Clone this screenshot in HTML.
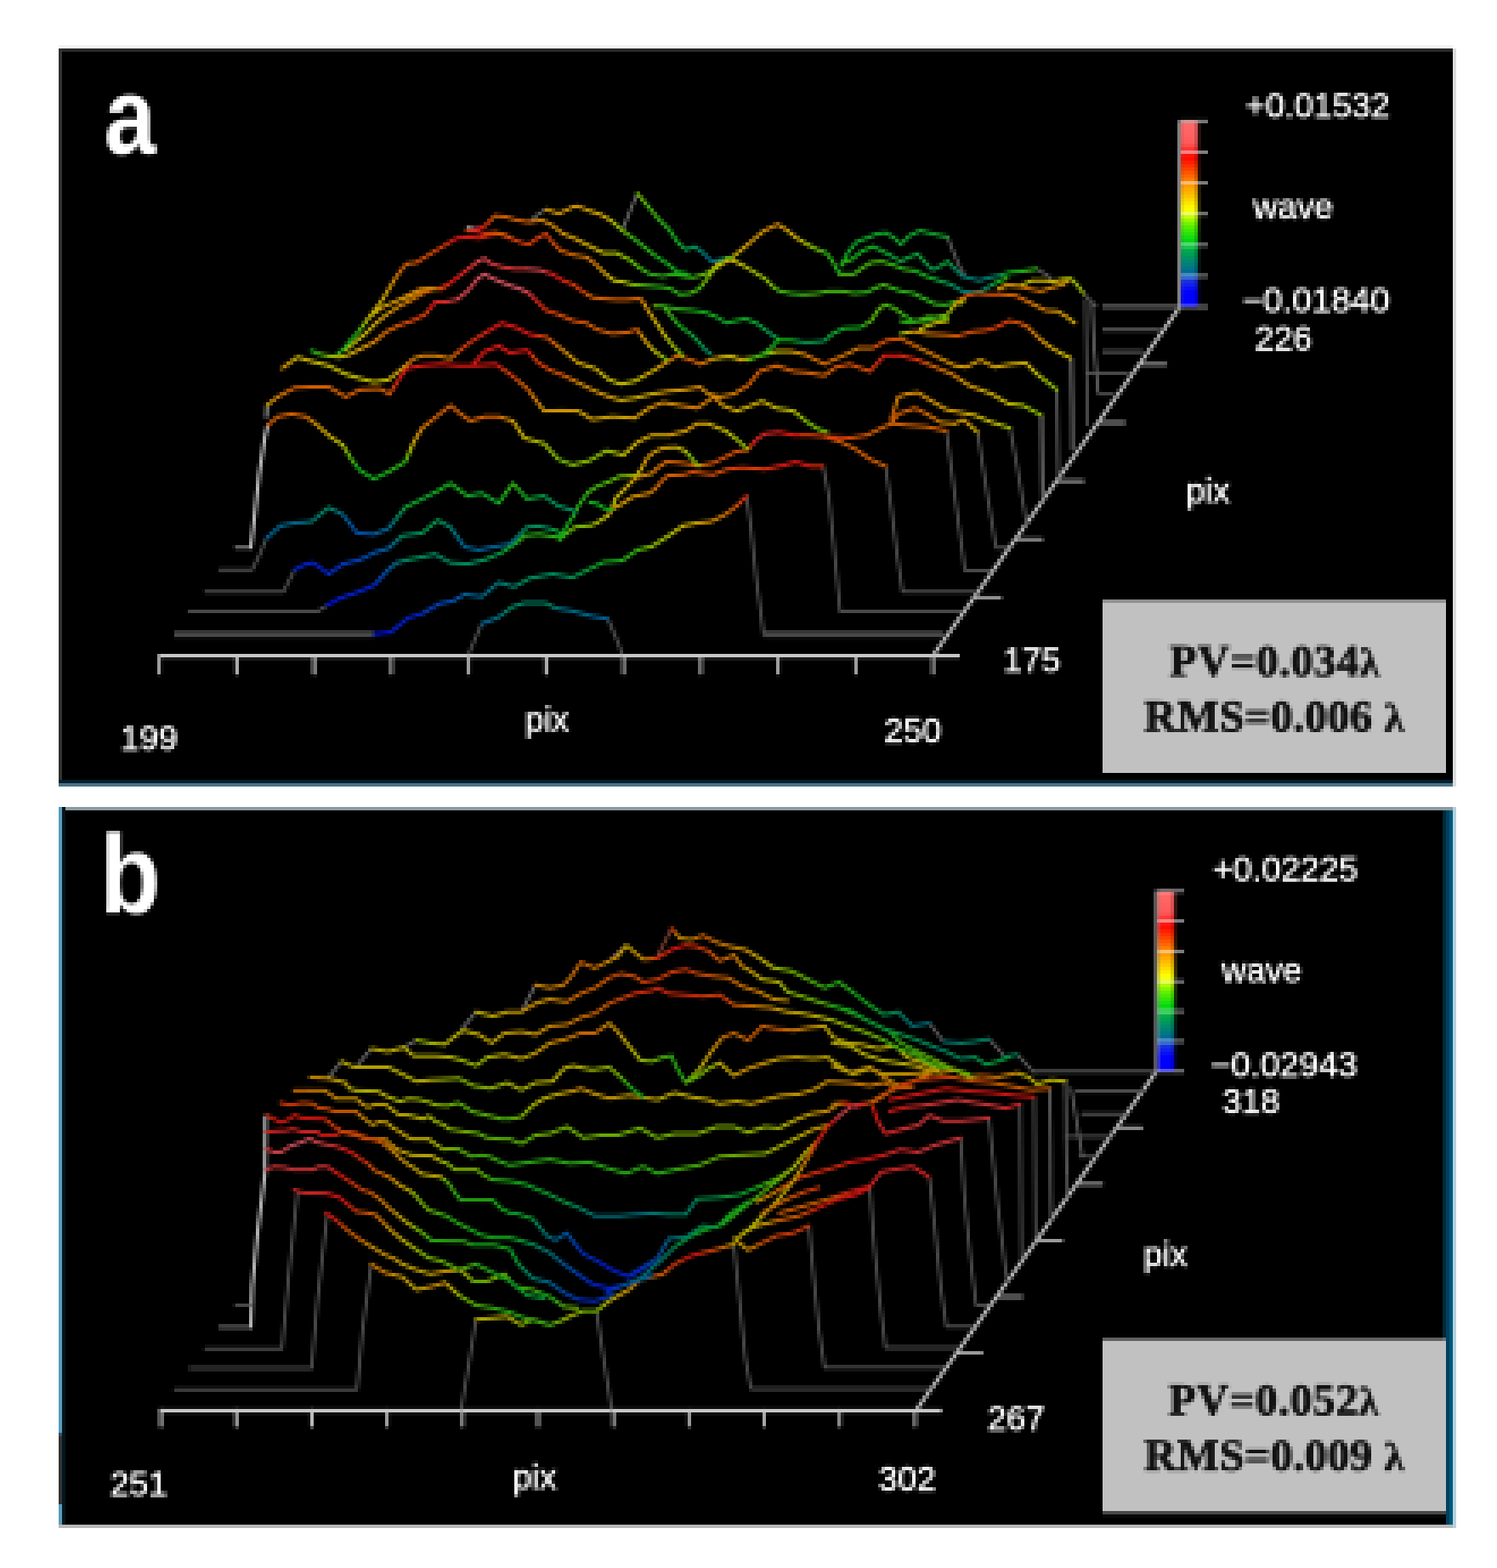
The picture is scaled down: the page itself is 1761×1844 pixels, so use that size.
<!DOCTYPE html>
<html lang="en"><head><meta charset="utf-8"><title>Wavefront maps</title>
<style>
html,body{margin:0;padding:0;background:#fff;}
body{width:1761px;height:1844px;overflow:hidden;position:relative;}
svg{position:absolute;left:0;top:0;display:block;}
.lab{font-family:"Liberation Sans",sans-serif;font-size:40.5px;fill:#fafafa;stroke:#fafafa;stroke-width:0.9px;paint-order:stroke;}
.pl{font-family:"Liberation Sans",sans-serif;font-weight:bold;fill:#fff;}
.st{font-family:"Liberation Serif",serif;font-weight:bold;font-size:52.5px;fill:#121212;stroke:#121212;stroke-width:1.2px;paint-order:stroke;}
</style></head><body>
<svg width="1761" height="1844" viewBox="0 0 1761 1844" role="img" aria-label="Wavefront maps a and b">
<defs>
<filter id="bl" x="-5%" y="-5%" width="110%" height="110%"><feGaussianBlur stdDeviation="0.9"/></filter>
<filter id="avg" filterUnits="userSpaceOnUse" x="0" y="0" width="1761" height="1844" color-interpolation-filters="sRGB"><feOffset in="SourceGraphic" dx="-1" dy="0" result="a1"/><feComposite in="SourceGraphic" in2="a1" operator="arithmetic" k1="0" k2="0.5" k3="0.5" k4="0" result="h1"/><feOffset in="h1" dx="-2" dy="0" result="a2"/><feComposite in="h1" in2="a2" operator="arithmetic" k1="0" k2="0.5" k3="0.5" k4="0" result="h2"/><feOffset in="h2" dx="0" dy="-1" result="b1"/><feComposite in="h2" in2="b1" operator="arithmetic" k1="0" k2="0.5" k3="0.5" k4="0" result="v1"/><feOffset in="v1" dx="0" dy="-2" result="b2"/><feComposite in="v1" in2="b2" operator="arithmetic" k1="0" k2="0.5" k3="0.5" k4="0" result="v2"/><feOffset in="v2" dx="1" dy="1"/></filter>
<filter id="px" filterUnits="userSpaceOnUse" x="0" y="0" width="1761" height="1844" color-interpolation-filters="sRGB"><feMorphology in="SourceGraphic" operator="dilate" radius="1" result="d"/><feOffset in="d" dx="1" dy="0" result="d1"/><feOffset in="d" dx="0" dy="1" result="d2"/><feOffset in="d" dx="1" dy="1" result="d3"/><feMerge><feMergeNode in="d3"/><feMergeNode in="d2"/><feMergeNode in="d1"/><feMergeNode in="d"/></feMerge></filter>
<pattern id="dotpat" patternUnits="userSpaceOnUse" x="1" y="1" width="4" height="4"><rect x="1" y="1" width="1" height="1" fill="#fff" shape-rendering="crispEdges"/></pattern>
<mask id="dots" maskUnits="userSpaceOnUse" x="0" y="0" width="1761" height="1844"><rect x="0" y="0" width="1761" height="1844" fill="url(#dotpat)"/></mask>
<filter id="bt" x="-5%" y="-20%" width="110%" height="140%"><feGaussianBlur stdDeviation="0.7"/></filter>
<linearGradient id="cb" x1="0" y1="0" x2="0" y2="1">
<stop offset="0" stop-color="#ff6a6a"/>
<stop offset="0.12" stop-color="#ff5a5a"/>
<stop offset="0.165" stop-color="#ff2020"/>
<stop offset="0.2" stop-color="#ff0800"/>
<stop offset="0.333" stop-color="#ff8c00"/>
<stop offset="0.4" stop-color="#ffc000"/>
<stop offset="0.47" stop-color="#ffff00"/>
<stop offset="0.5" stop-color="#e0ff00"/>
<stop offset="0.56" stop-color="#60f000"/>
<stop offset="0.64" stop-color="#00d810"/>
<stop offset="0.667" stop-color="#00c030"/>
<stop offset="0.72" stop-color="#009a58"/>
<stop offset="0.8" stop-color="#00708a"/>
<stop offset="0.833" stop-color="#0058b0"/>
<stop offset="0.86" stop-color="#1830e0"/>
<stop offset="0.92" stop-color="#0000ff"/>
<stop offset="1" stop-color="#0000ff"/>
</linearGradient>
</defs>
<rect x="0" y="0" width="1761" height="1844" fill="#ffffff"/>
<g id="figure" filter="url(#px)"><g mask="url(#dots)"><g filter="url(#avg)">
<rect x="0" y="0" width="1761" height="1844" fill="#ffffff"/>
<g id="panel-a">
<rect x="69" y="53" width="1640" height="4" fill="#f3f3f3"/>
<rect x="1709" y="57" width="4" height="868" fill="#dcdcdc"/>
<rect x="69" y="57" width="1640" height="868" fill="#000"/>
<rect x="69" y="57" width="1640" height="4" fill="#282828"/>
<rect x="69" y="57" width="4" height="868" fill="#303030"/>
<rect x="69" y="917" width="1640" height="4" fill="#04202e"/>
<rect x="69" y="921" width="1640" height="4" fill="#4a7182"/>
</g>
<g id="panel-b">
<rect x="69" y="949" width="1640" height="848" fill="#000"/>
<rect x="69" y="949" width="1644" height="4" fill="#8c9aa2"/>
<rect x="69" y="949" width="4" height="844" fill="#5b9abb"/>
<rect x="69" y="1686" width="4" height="83" fill="#333"/>
<rect x="73" y="949" width="4" height="844" fill="#04161f"/>
<rect x="1697" y="953" width="4" height="622" fill="#022838"/>
<rect x="1701" y="953" width="4" height="840" fill="#01405c"/>
<rect x="1705" y="953" width="4" height="840" fill="#00587e"/>
<rect x="1709" y="949" width="4" height="848" fill="#b4d2de"/>
<rect x="69" y="1793" width="1640" height="4" fill="#b8b8b8"/>
</g>
<g id="wire-a" fill="none" stroke-linecap="round" stroke-linejoin="round">
<path d="M186.0 771.2 L1129.0 771.2" stroke="#c6c6c6" stroke-width="4.6" stroke-linecap="butt"/>
<path d="M187.5 771.0 L187.5 792.0" stroke="#c4c4c4" stroke-width="3.4"/>
<path d="M278.5 771.0 L278.5 792.0" stroke="#c4c4c4" stroke-width="4.0"/>
<path d="M369.5 771.0 L369.5 792.0" stroke="#c4c4c4" stroke-width="4.0"/>
<path d="M460.5 771.0 L460.5 792.0" stroke="#c4c4c4" stroke-width="3.4"/>
<path d="M551.5 771.0 L551.5 792.0" stroke="#c4c4c4" stroke-width="3.4"/>
<path d="M642.5 771.0 L642.5 792.0" stroke="#c4c4c4" stroke-width="4.0"/>
<path d="M733.5 771.0 L733.5 792.0" stroke="#c4c4c4" stroke-width="3.4"/>
<path d="M824.5 771.0 L824.5 792.0" stroke="#c4c4c4" stroke-width="3.4"/>
<path d="M915.5 771.0 L915.5 792.0" stroke="#c4c4c4" stroke-width="3.4"/>
<path d="M1006.5 771.0 L1006.5 792.0" stroke="#c4c4c4" stroke-width="3.4"/>
<path d="M1097.5 771.0 L1097.5 792.0" stroke="#c4c4c4" stroke-width="3.4"/>
<path d="M1097.5 771.0 L1388.0 361.0" stroke="#bdbdbd" stroke-width="4.2"/>
<path d="M1148.1 702.5 L1177.1 702.5" stroke="#b0b0b0" stroke-width="3.4"/>
<path d="M1196.7 634.0 L1225.7 634.0" stroke="#b0b0b0" stroke-width="3.4"/>
<path d="M1245.3 565.5 L1274.3 565.5" stroke="#b0b0b0" stroke-width="3.4"/>
<path d="M1293.9 497.0 L1322.9 497.0" stroke="#b0b0b0" stroke-width="3.4"/>
<path d="M1342.5 428.5 L1371.5 428.5" stroke="#b0b0b0" stroke-width="3.4"/>
<path d="M551.7 768.3 L566.7 733.3" stroke="#525252" stroke-width="3.4"/>
<path d="M715.0 727.7 L723.3 746.7 L731.7 768.3" stroke="#525252" stroke-width="3.4"/>
<path d="M205.0 745.7 L440.0 745.7" stroke="#484848" stroke-width="7.5" stroke-linecap="butt"/>
<path d="M878.3 583.3 L883.3 620.0 L890.0 683.3 L898.3 745.7" stroke="#525252" stroke-width="3.4"/>
<path d="M898.3 745.7 L1110.0 745.7" stroke="#484848" stroke-width="7.5" stroke-linecap="butt"/>
<path d="M222.3 719.3 L373.3 719.3 L385.0 711.7" stroke="#525252" stroke-width="3.4"/>
<path d="M968.3 548.3 L975.0 583.3 L981.7 650.0 L988.3 719.3 L1130.0 719.3" stroke="#525252" stroke-width="3.4"/>
<path d="M241.7 696.0 L333.3 696.0 L346.7 670.0" stroke="#525252" stroke-width="3.4"/>
<path d="M1041.7 548.3 L1046.7 583.3 L1055.0 650.0 L1061.7 696.0 L1148.3 696.0" stroke="#525252" stroke-width="3.4"/>
<path d="M258.3 670.0 L296.7 670.0 L305.0 653.3 L313.3 633.3" stroke="#525252" stroke-width="3.4"/>
<path d="M1113.3 506.7 L1123.3 583.3 L1135.0 670.7 L1165.0 670.7" stroke="#525252" stroke-width="3.4"/>
<path d="M277.3 644.0 L295.0 644.0" stroke="#8a8a8a" stroke-width="3.4"/>
<path d="M295.0 644.0 L298.3 616.7 L305.0 556.7 L311.7 513.3 L315.0 500.0" stroke="#b8b8b8" stroke-width="4.2"/>
<path d="M1150.0 508.3 L1161.7 583.3 L1171.7 644.0 L1185.0 644.0" stroke="#525252" stroke-width="3.4"/>
<path d="M313.3 490.0 L314.0 476.7" stroke="#9a9a9a" stroke-width="3.8"/>
<path d="M1188.3 503.3 L1196.7 550.0 L1206.7 610.0 L1207.3 616.7" stroke="#525252" stroke-width="3.4"/>
<path d="M1225.0 488.3 L1226.7 583.3 L1228.3 586.7" stroke="#5c5c5c" stroke-width="5" stroke-linecap="butt"/>
<path d="M1243.3 458.3 L1245.0 560.0 L1246.7 561.7" stroke="#5c5c5c" stroke-width="3.4"/>
<path d="M549.9 267.4 L559.9 269.4" stroke="#b0a0a0" stroke-width="3.2"/>
<path d="M622.3 261.2 L632.3 252.5 L642.3 246.2" stroke="#707070" stroke-width="3.2"/>
<path d="M732.3 269.9 L749.7 227.5" stroke="#707070" stroke-width="3.2"/>
<path d="M1114.5 278.7 L1122.0 297.4 L1129.5 314.9 L1134.5 322.4" stroke="#606060" stroke-width="3.2"/>
<path d="M1219.5 316.2 L1229.5 322.4 L1237.0 327.4" stroke="#606060" stroke-width="3.2"/>
<path d="M1259.9 421.1 L1261.4 479.8 L1261.9 529.8" stroke="#505050" stroke-width="5.5" stroke-linecap="butt"/>
<path d="M1276.9 352.4 L1278.2 429.9 L1279.4 499.8" stroke="#585858" stroke-width="3.2"/>
<path d="M1284.4 354.9 L1286.9 404.9 L1291.9 462.3" stroke="#6a6a6a" stroke-width="3.2"/>
<path d="M1274.4 344.9 L1289.4 359.9" stroke="#585858" stroke-width="3.2"/>
<path d="M1296.9 360.4 L1386.9 360.4" stroke="#484848" stroke-width="6.5" stroke-linecap="butt"/>
<path d="M1296.9 387.4 L1364.4 387.4" stroke="#484848" stroke-width="5" stroke-linecap="butt"/>
<path d="M1296.9 413.6 L1344.4 413.6" stroke="#484848" stroke-width="5" stroke-linecap="butt"/>
<path d="M1279.4 438.6 L1326.9 438.6" stroke="#585858" stroke-width="3.2"/>
<path d="M1294.4 463.6 L1309.4 463.6" stroke="#585858" stroke-width="3.2"/>
<path d="M566.7 733.3 L575.8 730.0" stroke="#006092" stroke-width="4"/>
<path d="M575.8 730.0 L585.0 726.7" stroke="#006888" stroke-width="4"/>
<path d="M585.0 726.7 L594.2 720.0" stroke="#00707c" stroke-width="4"/>
<path d="M594.2 720.0 L603.3 713.3 L616.7 709.0 L641.7 709.0 L653.3 715.0" stroke="#008264" stroke-width="4"/>
<path d="M653.3 715.0 L663.3 716.7" stroke="#00707c" stroke-width="4"/>
<path d="M663.3 716.7 L673.3 718.3 L693.3 724.0" stroke="#006888" stroke-width="4"/>
<path d="M693.3 724.0 L715.0 727.7" stroke="#006092" stroke-width="4"/>
<path d="M440.0 745.7 L460.0 743.3" stroke="#0010d8" stroke-width="4"/>
<path d="M460.0 743.3 L480.0 726.7 L496.7 721.7" stroke="#001ece" stroke-width="4"/>
<path d="M496.7 721.7 L516.7 710.0" stroke="#003aba" stroke-width="4"/>
<path d="M516.7 710.0 L525.0 708.3 L533.3 706.7" stroke="#0048b0" stroke-width="4"/>
<path d="M533.3 706.7 L540.0 702.8" stroke="#0050a6" stroke-width="4"/>
<path d="M540.0 702.8 L546.7 699.0" stroke="#00589c" stroke-width="4"/>
<path d="M546.7 699.0 L566.7 701.7" stroke="#006092" stroke-width="4"/>
<path d="M566.7 701.7 L576.7 693.3" stroke="#006888" stroke-width="4"/>
<path d="M576.7 693.3 L586.7 685.0" stroke="#00707c" stroke-width="4"/>
<path d="M586.7 685.0 L605.0 690.0" stroke="#007970" stroke-width="4"/>
<path d="M605.0 690.0 L614.2 685.0" stroke="#008264" stroke-width="4"/>
<path d="M614.2 685.0 L623.3 680.0 L650.0 675.0 L673.3 679.0" stroke="#008a58" stroke-width="4"/>
<path d="M673.3 679.0 L685.6 673.0" stroke="#049248" stroke-width="4"/>
<path d="M685.6 673.0 L697.8 667.0" stroke="#089a38" stroke-width="4"/>
<path d="M697.8 667.0 L710.0 661.0" stroke="#0ca228" stroke-width="4"/>
<path d="M710.0 661.0 L731.7 659.3" stroke="#10aa18" stroke-width="4"/>
<path d="M731.7 659.3 L750.0 646.7" stroke="#28ad12" stroke-width="4"/>
<path d="M750.0 646.7 L758.3 644.7" stroke="#40b00c" stroke-width="4"/>
<path d="M758.3 644.7 L766.7 642.7" stroke="#70b600" stroke-width="4"/>
<path d="M766.7 642.7 L776.7 636.3" stroke="#84b600" stroke-width="4"/>
<path d="M776.7 636.3 L786.7 630.0" stroke="#97b600" stroke-width="4"/>
<path d="M786.7 630.0 L795.0 624.2" stroke="#aab600" stroke-width="4"/>
<path d="M795.0 624.2 L803.3 618.3" stroke="#beb600" stroke-width="4"/>
<path d="M803.3 618.3 L811.7 616.7" stroke="#c2ad00" stroke-width="4"/>
<path d="M811.7 616.7 L820.0 615.0" stroke="#c5a400" stroke-width="4"/>
<path d="M820.0 615.0 L828.3 614.2" stroke="#c89b00" stroke-width="4"/>
<path d="M828.3 614.2 L836.7 613.3" stroke="#cc9200" stroke-width="4"/>
<path d="M836.7 613.3 L845.0 609.2" stroke="#cd8500" stroke-width="4"/>
<path d="M845.0 609.2 L853.3 605.0" stroke="#ce7800" stroke-width="4"/>
<path d="M853.3 605.0 L860.0 600.0" stroke="#cf6b00" stroke-width="4"/>
<path d="M860.0 600.0 L866.7 595.0" stroke="#d05e00" stroke-width="4"/>
<path d="M866.7 595.0 L870.6 591.1" stroke="#d24c04" stroke-width="4"/>
<path d="M870.6 591.1 L874.4 587.2" stroke="#d43a08" stroke-width="4"/>
<path d="M874.4 587.2 L878.3 583.3" stroke="#d6280c" stroke-width="4"/>
<path d="M385.0 711.7 L400.0 703.3" stroke="#0010d8" stroke-width="4"/>
<path d="M400.0 703.3 L420.0 696.7 L440.0 688.3" stroke="#001ece" stroke-width="4"/>
<path d="M440.0 688.3 L444.2 683.8" stroke="#002cc4" stroke-width="4"/>
<path d="M444.2 683.8 L448.3 679.2" stroke="#003aba" stroke-width="4"/>
<path d="M448.3 679.2 L452.5 674.6" stroke="#0048b0" stroke-width="4"/>
<path d="M452.5 674.6 L456.7 670.0" stroke="#0050a6" stroke-width="4"/>
<path d="M456.7 670.0 L460.0 667.2" stroke="#00589c" stroke-width="4"/>
<path d="M460.0 667.2 L463.3 664.4" stroke="#006092" stroke-width="4"/>
<path d="M463.3 664.4 L466.7 661.7" stroke="#006888" stroke-width="4"/>
<path d="M466.7 661.7 L471.1 660.6" stroke="#00707c" stroke-width="4"/>
<path d="M471.1 660.6 L475.6 659.4" stroke="#007970" stroke-width="4"/>
<path d="M475.6 659.4 L480.0 658.3" stroke="#008264" stroke-width="4"/>
<path d="M480.0 658.3 L496.7 655.0 L511.7 651.7" stroke="#008a58" stroke-width="4"/>
<path d="M511.7 651.7 L530.0 661.7" stroke="#008264" stroke-width="4"/>
<path d="M530.0 661.7 L550.0 663.3 L570.0 658.3" stroke="#008a58" stroke-width="4"/>
<path d="M570.0 658.3 L590.0 650.0" stroke="#049248" stroke-width="4"/>
<path d="M590.0 650.0 L593.3 647.8" stroke="#089a38" stroke-width="4"/>
<path d="M593.3 647.8 L596.7 645.6" stroke="#0ca228" stroke-width="4"/>
<path d="M596.7 645.6 L600.0 643.3 L610.0 636.7" stroke="#10aa18" stroke-width="4"/>
<path d="M610.0 636.7 L617.0 630.0 L634.0 628.3 L656.3 631.7 L659.7 633.3" stroke="#28ad12" stroke-width="4"/>
<path d="M659.7 633.3 L668.0 626.3" stroke="#40b00c" stroke-width="4"/>
<path d="M668.0 626.3 L672.3 623.0" stroke="#58b306" stroke-width="4"/>
<path d="M672.3 623.0 L676.7 619.7 L686.0 618.8" stroke="#70b600" stroke-width="4"/>
<path d="M686.0 618.8 L695.3 618.0" stroke="#84b600" stroke-width="4"/>
<path d="M695.3 618.0 L702.3 614.7" stroke="#97b600" stroke-width="4"/>
<path d="M702.3 614.7 L709.0 610.3" stroke="#aab600" stroke-width="4"/>
<path d="M709.0 610.3 L715.7 606.0 L717.5 602.7" stroke="#beb600" stroke-width="4"/>
<path d="M717.5 602.7 L719.3 599.3" stroke="#c2ad00" stroke-width="4"/>
<path d="M719.3 599.3 L724.3 596.7" stroke="#c5a400" stroke-width="4"/>
<path d="M724.3 596.7 L729.3 594.0" stroke="#c89b00" stroke-width="4"/>
<path d="M729.3 594.0 L744.7 584.0" stroke="#cc9200" stroke-width="4"/>
<path d="M744.7 584.0 L763.3 580.3" stroke="#cd8500" stroke-width="4"/>
<path d="M763.3 580.3 L770.3 575.3" stroke="#ce7800" stroke-width="4"/>
<path d="M770.3 575.3 L774.7 570.2" stroke="#cf6b00" stroke-width="4"/>
<path d="M774.7 570.2 L779.0 565.0 L785.7 559.3 L804.3 558.3" stroke="#d05e00" stroke-width="4"/>
<path d="M804.3 558.3 L814.7 555.0 L838.3 558.3 L855.7 551.7" stroke="#d24c04" stroke-width="4"/>
<path d="M855.7 551.7 L872.7 550.0 L900.0 551.7" stroke="#d43a08" stroke-width="4"/>
<path d="M900.0 551.7 L916.7 548.3" stroke="#d6280c" stroke-width="4"/>
<path d="M916.7 548.3 L936.7 543.3 L953.3 548.3" stroke="#d81610" stroke-width="4"/>
<path d="M953.3 548.3 L968.3 548.3" stroke="#d6280c" stroke-width="4"/>
<path d="M346.7 670.0 L360.0 663.3 L368.3 661.7 L386.7 675.0" stroke="#001ece" stroke-width="4"/>
<path d="M386.7 675.0 L403.3 663.3" stroke="#002cc4" stroke-width="4"/>
<path d="M403.3 663.3 L423.3 658.3" stroke="#003aba" stroke-width="4"/>
<path d="M423.3 658.3 L431.7 654.2 L440.0 650.0" stroke="#0048b0" stroke-width="4"/>
<path d="M440.0 650.0 L448.3 647.5" stroke="#0050a6" stroke-width="4"/>
<path d="M448.3 647.5 L456.7 645.0" stroke="#00589c" stroke-width="4"/>
<path d="M456.7 645.0 L460.8 641.2" stroke="#006092" stroke-width="4"/>
<path d="M460.8 641.2 L465.0 637.5" stroke="#006888" stroke-width="4"/>
<path d="M465.0 637.5 L469.2 633.8" stroke="#00707c" stroke-width="4"/>
<path d="M469.2 633.8 L473.3 630.0" stroke="#008264" stroke-width="4"/>
<path d="M473.3 630.0 L496.7 626.7" stroke="#008a58" stroke-width="4"/>
<path d="M496.7 626.7 L515.0 611.7 L522.5 615.8" stroke="#049248" stroke-width="4"/>
<path d="M522.5 615.8 L530.0 620.0" stroke="#008264" stroke-width="4"/>
<path d="M530.0 620.0 L534.2 625.8" stroke="#007970" stroke-width="4"/>
<path d="M534.2 625.8 L538.3 631.7" stroke="#00707c" stroke-width="4"/>
<path d="M538.3 631.7 L542.5 637.5" stroke="#006888" stroke-width="4"/>
<path d="M542.5 637.5 L546.7 643.3 L563.3 646.7 L580.0 643.3 L600.0 640.0" stroke="#006092" stroke-width="4"/>
<path d="M600.0 640.0 L605.0 635.0" stroke="#006888" stroke-width="4"/>
<path d="M605.0 635.0 L610.0 630.0" stroke="#00707c" stroke-width="4"/>
<path d="M610.0 630.0 L615.2 624.8" stroke="#007970" stroke-width="4"/>
<path d="M615.2 624.8 L620.3 619.7 L634.0 618.7 L646.7 621.7" stroke="#008a58" stroke-width="4"/>
<path d="M646.7 621.7 L651.5 623.2" stroke="#049248" stroke-width="4"/>
<path d="M651.5 623.2 L656.3 624.7" stroke="#089a38" stroke-width="4"/>
<path d="M656.3 624.7 L658.2 627.3" stroke="#0ca228" stroke-width="4"/>
<path d="M658.2 627.3 L660.0 630.0" stroke="#10aa18" stroke-width="4"/>
<path d="M719.3 599.3 L724.3 585.7" stroke="#beb600" stroke-width="4"/>
<path d="M724.3 585.7 L733.0 577.0" stroke="#c2ad00" stroke-width="4"/>
<path d="M733.0 577.0 L741.3 568.7 L744.8 565.2" stroke="#c5a400" stroke-width="4"/>
<path d="M744.8 565.2 L748.3 561.7 L756.7 559.3" stroke="#cc9200" stroke-width="4"/>
<path d="M756.7 559.3 L767.0 556.7" stroke="#cd8500" stroke-width="4"/>
<path d="M767.0 556.7 L773.7 550.0" stroke="#ce7800" stroke-width="4"/>
<path d="M773.7 550.0 L784.0 543.0" stroke="#cf6b00" stroke-width="4"/>
<path d="M784.0 543.0 L797.7 544.0 L811.3 545.7 L819.7 548.0 L838.3 544.7" stroke="#d05e00" stroke-width="4"/>
<path d="M838.3 544.7 L852.0 538.0 L865.7 531.0 L879.3 529.3" stroke="#d24c04" stroke-width="4"/>
<path d="M879.3 529.3 L882.9 525.1" stroke="#d43a08" stroke-width="4"/>
<path d="M882.9 525.1 L886.4 520.9" stroke="#d6280c" stroke-width="4"/>
<path d="M886.4 520.9 L890.0 516.7 L900.0 510.0 L916.7 508.3" stroke="#d52423" stroke-width="4"/>
<path d="M916.7 508.3 L933.3 511.7 L943.3 511.7" stroke="#d81610" stroke-width="4"/>
<path d="M943.3 511.7 L953.3 511.7 L970.0 513.3" stroke="#d43a08" stroke-width="4"/>
<path d="M970.0 513.3 L990.0 520.0" stroke="#d24c04" stroke-width="4"/>
<path d="M990.0 520.0 L1006.7 528.3 L1023.3 540.0 L1041.7 548.3" stroke="#d05e00" stroke-width="4"/>
<path d="M658.0 635.0 L666.7 618.3 L675.0 606.0" stroke="#10aa18" stroke-width="4"/>
<path d="M675.0 606.0 L680.0 595.7 L686.7 585.7 L692.0 578.7" stroke="#28ad12" stroke-width="4"/>
<path d="M692.0 578.7 L702.3 572.0 L715.7 566.7" stroke="#40b00c" stroke-width="4"/>
<path d="M715.7 566.7 L729.3 560.0" stroke="#58b306" stroke-width="4"/>
<path d="M729.3 560.0 L738.8 559.7" stroke="#70b600" stroke-width="4"/>
<path d="M738.8 559.7 L748.3 559.3" stroke="#97b600" stroke-width="4"/>
<path d="M748.3 559.3 L750.8 556.3" stroke="#aab600" stroke-width="4"/>
<path d="M750.8 556.3 L753.3 553.3" stroke="#c2ad00" stroke-width="4"/>
<path d="M753.3 553.3 L757.5 545.7" stroke="#c5a400" stroke-width="4"/>
<path d="M757.5 545.7 L761.7 538.0 L770.3 531.0 L780.7 526.7" stroke="#cc9200" stroke-width="4"/>
<path d="M780.7 526.7 L788.3 526.3" stroke="#c89b00" stroke-width="4"/>
<path d="M788.3 526.3 L796.0 526.0" stroke="#c5a400" stroke-width="4"/>
<path d="M796.0 526.0 L801.0 528.2" stroke="#c2ad00" stroke-width="4"/>
<path d="M801.0 528.2 L806.0 530.3" stroke="#beb600" stroke-width="4"/>
<path d="M806.0 530.3 L808.3 532.9" stroke="#aab600" stroke-width="4"/>
<path d="M808.3 532.9 L810.7 535.4" stroke="#97b600" stroke-width="4"/>
<path d="M810.7 535.4 L813.0 538.0" stroke="#84b600" stroke-width="4"/>
<path d="M813.0 538.0 L816.3 542.2" stroke="#70b600" stroke-width="4"/>
<path d="M816.3 542.2 L819.7 546.3" stroke="#84b600" stroke-width="4"/>
<path d="M819.7 546.3 L823.0 548.0" stroke="#97b600" stroke-width="4"/>
<path d="M313.3 633.3 L330.0 618.3" stroke="#006092" stroke-width="4"/>
<path d="M330.0 618.3 L346.7 615.0 L356.7 614.2" stroke="#006888" stroke-width="4"/>
<path d="M356.7 614.2 L366.7 613.3" stroke="#00707c" stroke-width="4"/>
<path d="M366.7 613.3 L376.7 605.0" stroke="#007970" stroke-width="4"/>
<path d="M376.7 605.0 L386.7 596.7 L392.2 599.4" stroke="#008264" stroke-width="4"/>
<path d="M392.2 599.4 L397.8 602.2" stroke="#007970" stroke-width="4"/>
<path d="M397.8 602.2 L403.3 605.0" stroke="#00707c" stroke-width="4"/>
<path d="M403.3 605.0 L408.9 612.2" stroke="#006092" stroke-width="4"/>
<path d="M408.9 612.2 L414.4 619.4" stroke="#00589c" stroke-width="4"/>
<path d="M414.4 619.4 L420.0 626.7 L440.0 628.3" stroke="#0050a6" stroke-width="4"/>
<path d="M440.0 628.3 L456.7 621.7" stroke="#006092" stroke-width="4"/>
<path d="M456.7 621.7 L460.7 616.7" stroke="#006888" stroke-width="4"/>
<path d="M460.7 616.7 L464.7 611.7" stroke="#00707c" stroke-width="4"/>
<path d="M464.7 611.7 L468.7 606.7" stroke="#008264" stroke-width="4"/>
<path d="M468.7 606.7 L472.7 601.7" stroke="#008a58" stroke-width="4"/>
<path d="M472.7 601.7 L476.7 596.7" stroke="#049248" stroke-width="4"/>
<path d="M476.7 596.7 L496.7 586.7 L513.3 578.3" stroke="#0ca228" stroke-width="4"/>
<path d="M513.3 578.3 L530.0 568.3 L550.0 583.3" stroke="#10aa18" stroke-width="4"/>
<path d="M550.0 583.3 L566.7 580.0 L586.7 591.7" stroke="#0ca228" stroke-width="4"/>
<path d="M586.7 591.7 L595.0 580.0" stroke="#10aa18" stroke-width="4"/>
<path d="M595.0 580.0 L603.3 568.3 L611.7 577.5" stroke="#28ad12" stroke-width="4"/>
<path d="M611.7 577.5 L620.0 586.7" stroke="#10aa18" stroke-width="4"/>
<path d="M620.0 586.7 L630.0 585.0" stroke="#0ca228" stroke-width="4"/>
<path d="M630.0 585.0 L640.0 583.3" stroke="#089a38" stroke-width="4"/>
<path d="M640.0 583.3 L648.3 589.2" stroke="#049248" stroke-width="4"/>
<path d="M648.3 589.2 L656.7 595.0 L673.3 600.0 L676.7 602.7" stroke="#008a58" stroke-width="4"/>
<path d="M693.7 590.7 L702.3 592.3 L710.7 597.7 L719.3 599.3" stroke="#10aa18" stroke-width="4"/>
<path d="M970.0 513.3 L1000.0 515.0" stroke="#d43a08" stroke-width="4"/>
<path d="M1000.0 515.0 L1020.0 511.7" stroke="#d24c04" stroke-width="4"/>
<path d="M1020.0 511.7 L1040.0 501.7 L1050.0 498.3 L1066.7 500.0 L1090.0 501.7 L1113.3 506.7" stroke="#d05e00" stroke-width="4"/>
<path d="M315.0 500.0 L326.7 490.0 L343.3 486.7 L360.0 490.0" stroke="#d05e00" stroke-width="4"/>
<path d="M360.0 490.0 L364.4 493.3" stroke="#cf6b00" stroke-width="4"/>
<path d="M364.4 493.3 L368.9 496.7" stroke="#ce7800" stroke-width="4"/>
<path d="M368.9 496.7 L373.3 500.0" stroke="#cd8500" stroke-width="4"/>
<path d="M373.3 500.0 L380.8 506.7" stroke="#c89b00" stroke-width="4"/>
<path d="M380.8 506.7 L388.3 513.3" stroke="#c5a400" stroke-width="4"/>
<path d="M388.3 513.3 L395.8 518.3" stroke="#c2ad00" stroke-width="4"/>
<path d="M395.8 518.3 L403.3 523.3" stroke="#beb600" stroke-width="4"/>
<path d="M403.3 523.3 L405.3 526.7" stroke="#aab600" stroke-width="4"/>
<path d="M405.3 526.7 L407.3 530.0" stroke="#97b600" stroke-width="4"/>
<path d="M407.3 530.0 L409.3 533.3" stroke="#84b600" stroke-width="4"/>
<path d="M409.3 533.3 L411.3 536.7" stroke="#70b600" stroke-width="4"/>
<path d="M411.3 536.7 L413.3 540.0" stroke="#58b306" stroke-width="4"/>
<path d="M413.3 540.0 L418.3 546.7" stroke="#40b00c" stroke-width="4"/>
<path d="M418.3 546.7 L423.3 553.3 L440.0 563.3 L456.7 555.0" stroke="#10aa18" stroke-width="4"/>
<path d="M456.7 555.0 L476.7 543.3 L478.1 540.0" stroke="#28ad12" stroke-width="4"/>
<path d="M478.1 540.0 L479.5 536.7" stroke="#58b306" stroke-width="4"/>
<path d="M479.5 536.7 L481.0 533.3" stroke="#70b600" stroke-width="4"/>
<path d="M481.0 533.3 L482.4 530.0" stroke="#84b600" stroke-width="4"/>
<path d="M482.4 530.0 L483.8 526.7" stroke="#aab600" stroke-width="4"/>
<path d="M483.8 526.7 L485.2 523.3" stroke="#beb600" stroke-width="4"/>
<path d="M485.2 523.3 L486.7 520.0" stroke="#c2ad00" stroke-width="4"/>
<path d="M486.7 520.0 L490.0 514.4" stroke="#c89b00" stroke-width="4"/>
<path d="M490.0 514.4 L493.3 508.9" stroke="#cc9200" stroke-width="4"/>
<path d="M493.3 508.9 L496.7 503.3" stroke="#cd8500" stroke-width="4"/>
<path d="M496.7 503.3 L505.0 496.7" stroke="#ce7800" stroke-width="4"/>
<path d="M505.0 496.7 L513.3 490.0 L530.0 476.7 L541.7 486.7 L553.3 495.0 L570.0 490.0 L586.7 490.0" stroke="#d05e00" stroke-width="4"/>
<path d="M586.7 490.0 L592.2 491.7" stroke="#cf6b00" stroke-width="4"/>
<path d="M592.2 491.7 L597.8 493.3" stroke="#ce7800" stroke-width="4"/>
<path d="M597.8 493.3 L603.3 495.0" stroke="#cd8500" stroke-width="4"/>
<path d="M603.3 495.0 L607.8 501.7" stroke="#c89b00" stroke-width="4"/>
<path d="M607.8 501.7 L612.2 508.3" stroke="#c5a400" stroke-width="4"/>
<path d="M612.2 508.3 L616.7 515.0" stroke="#c2ad00" stroke-width="4"/>
<path d="M616.7 515.0 L628.3 518.3" stroke="#beb600" stroke-width="4"/>
<path d="M628.3 518.3 L640.0 521.7" stroke="#aab600" stroke-width="4"/>
<path d="M640.0 521.7 L648.3 530.8" stroke="#97b600" stroke-width="4"/>
<path d="M648.3 530.8 L656.7 540.0" stroke="#84b600" stroke-width="4"/>
<path d="M656.7 540.0 L673.3 546.7" stroke="#70b600" stroke-width="4"/>
<path d="M673.3 546.7 L693.3 541.7 L713.3 530.0" stroke="#84b600" stroke-width="4"/>
<path d="M713.3 530.0 L723.3 532.5" stroke="#97b600" stroke-width="4"/>
<path d="M723.3 532.5 L733.3 535.0" stroke="#aab600" stroke-width="4"/>
<path d="M733.3 535.0 L741.7 527.5" stroke="#beb600" stroke-width="4"/>
<path d="M741.7 527.5 L750.0 520.0" stroke="#c2ad00" stroke-width="4"/>
<path d="M750.0 520.0 L758.5 515.8" stroke="#c5a400" stroke-width="4"/>
<path d="M758.5 515.8 L767.0 511.7 L786.7 511.7" stroke="#c89b00" stroke-width="4"/>
<path d="M786.7 511.7 L806.7 506.7 L820.0 498.3 L826.7 498.3" stroke="#cc9200" stroke-width="4"/>
<path d="M826.7 498.3 L833.3 498.3" stroke="#c89b00" stroke-width="4"/>
<path d="M833.3 498.3 L843.3 502.5" stroke="#c5a400" stroke-width="4"/>
<path d="M843.3 502.5 L853.3 506.7" stroke="#c2ad00" stroke-width="4"/>
<path d="M853.3 506.7 L860.0 511.7" stroke="#beb600" stroke-width="4"/>
<path d="M860.0 511.7 L866.7 516.7" stroke="#aab600" stroke-width="4"/>
<path d="M866.7 516.7 L873.3 522.5" stroke="#97b600" stroke-width="4"/>
<path d="M873.3 522.5 L880.0 528.3" stroke="#84b600" stroke-width="4"/>
<path d="M1048.3 498.3 L1056.7 486.7 L1076.7 480.0 L1090.0 486.7" stroke="#d05e00" stroke-width="4"/>
<path d="M1090.0 486.7 L1106.7 496.7" stroke="#cf6b00" stroke-width="4"/>
<path d="M1106.7 496.7 L1123.3 498.3" stroke="#cd8500" stroke-width="4"/>
<path d="M1123.3 498.3 L1133.3 493.3 L1141.7 500.8" stroke="#cc9200" stroke-width="4"/>
<path d="M1141.7 500.8 L1150.0 508.3" stroke="#c5a400" stroke-width="4"/>
<path d="M314.0 476.7 L318.2 473.3" stroke="#c89b00" stroke-width="4"/>
<path d="M318.2 473.3 L322.4 470.0" stroke="#cc9200" stroke-width="4"/>
<path d="M322.4 470.0 L326.7 466.7" stroke="#cd8500" stroke-width="4"/>
<path d="M326.7 466.7 L336.7 461.3" stroke="#ce7800" stroke-width="4"/>
<path d="M336.7 461.3 L346.7 456.0 L366.7 455.0 L386.7 455.0 L406.7 466.7 L423.3 458.3 L446.7 457.3 L458.3 463.3" stroke="#d05e00" stroke-width="4"/>
<path d="M458.3 463.3 L462.2 457.2" stroke="#d24c04" stroke-width="4"/>
<path d="M462.2 457.2 L466.1 451.1" stroke="#d43a08" stroke-width="4"/>
<path d="M466.1 451.1 L470.0 445.0" stroke="#d6280c" stroke-width="4"/>
<path d="M470.0 445.0 L478.3 433.3 L496.7 430.0 L520.0 428.3 L540.0 430.0 L556.7 430.0 L583.3 428.3 L591.7 434.2" stroke="#d81610" stroke-width="4"/>
<path d="M591.7 434.2 L600.0 440.0 L610.0 448.3" stroke="#d43a08" stroke-width="4"/>
<path d="M610.0 448.3 L620.0 456.7 L625.0 463.3" stroke="#d05e00" stroke-width="4"/>
<path d="M625.0 463.3 L630.0 470.0 L635.0 476.7" stroke="#ce7800" stroke-width="4"/>
<path d="M635.0 476.7 L640.0 483.3 L660.0 482.7 L680.0 483.3" stroke="#cc9200" stroke-width="4"/>
<path d="M680.0 483.3 L696.7 493.3 L720.0 490.0 L746.7 491.7" stroke="#c89b00" stroke-width="4"/>
<path d="M746.7 491.7 L755.0 485.8 L763.3 480.0" stroke="#cc9200" stroke-width="4"/>
<path d="M763.3 480.0 L780.0 473.3 L800.0 476.7" stroke="#cd8500" stroke-width="4"/>
<path d="M800.0 476.7 L820.0 480.0 L840.0 466.7 L843.3 470.0" stroke="#ce7800" stroke-width="4"/>
<path d="M843.3 470.0 L846.7 473.3" stroke="#cd8500" stroke-width="4"/>
<path d="M846.7 473.3 L850.0 476.7" stroke="#cc9200" stroke-width="4"/>
<path d="M850.0 476.7 L866.7 483.3" stroke="#c89b00" stroke-width="4"/>
<path d="M866.7 483.3 L880.0 478.3 L896.7 471.7" stroke="#c5a400" stroke-width="4"/>
<path d="M896.7 471.7 L913.3 480.0" stroke="#c2ad00" stroke-width="4"/>
<path d="M913.3 480.0 L933.3 483.3" stroke="#beb600" stroke-width="4"/>
<path d="M933.3 483.3 L938.9 487.8" stroke="#aab600" stroke-width="4"/>
<path d="M938.9 487.8 L944.4 492.2" stroke="#97b600" stroke-width="4"/>
<path d="M944.4 492.2 L950.0 496.7" stroke="#84b600" stroke-width="4"/>
<path d="M950.0 496.7 L963.3 505.0 L973.3 508.3" stroke="#70b600" stroke-width="4"/>
<path d="M1048.3 493.3 L1052.5 480.0" stroke="#d05e00" stroke-width="4"/>
<path d="M1052.5 480.0 L1056.7 466.7 L1066.7 463.3" stroke="#ce7800" stroke-width="4"/>
<path d="M1066.7 463.3 L1080.0 461.7 L1093.3 470.0" stroke="#cd8500" stroke-width="4"/>
<path d="M1093.3 470.0 L1113.3 481.7 L1130.0 485.0" stroke="#cc9200" stroke-width="4"/>
<path d="M1130.0 485.0 L1138.3 486.7" stroke="#c89b00" stroke-width="4"/>
<path d="M1138.3 486.7 L1146.7 488.3" stroke="#c5a400" stroke-width="4"/>
<path d="M1146.7 488.3 L1156.7 492.5" stroke="#c2ad00" stroke-width="4"/>
<path d="M1156.7 492.5 L1166.7 496.7 L1173.9 498.9" stroke="#beb600" stroke-width="4"/>
<path d="M1173.9 498.9 L1181.1 501.1" stroke="#aab600" stroke-width="4"/>
<path d="M1181.1 501.1 L1188.3 503.3" stroke="#97b600" stroke-width="4"/>
<path d="M556.7 428.3 L570.0 413.3 L586.7 406.7 L600.0 415.0 L620.0 411.7 L626.7 419.2" stroke="#d81610" stroke-width="4"/>
<path d="M626.7 419.2 L633.3 426.7 L646.7 435.0" stroke="#d43a08" stroke-width="4"/>
<path d="M646.7 435.0 L663.3 441.7" stroke="#d24c04" stroke-width="4"/>
<path d="M663.3 441.7 L671.7 445.8" stroke="#d05e00" stroke-width="4"/>
<path d="M671.7 445.8 L680.0 450.0" stroke="#ce7800" stroke-width="4"/>
<path d="M680.0 450.0 L700.0 460.0" stroke="#cd8500" stroke-width="4"/>
<path d="M700.0 460.0 L716.7 466.7 L723.3 468.7" stroke="#cc9200" stroke-width="4"/>
<path d="M723.3 468.7 L730.0 470.7 L746.7 468.3 L767.0 463.3 L776.8 461.7" stroke="#c5a400" stroke-width="4"/>
<path d="M776.8 461.7 L786.7 460.0 L806.7 458.3" stroke="#cc9200" stroke-width="4"/>
<path d="M806.7 458.3 L823.3 455.0 L833.3 463.3 L846.7 466.7" stroke="#cd8500" stroke-width="4"/>
<path d="M846.7 466.7 L863.3 463.3 L871.7 458.3" stroke="#ce7800" stroke-width="4"/>
<path d="M871.7 458.3 L880.0 453.3 L893.3 436.7 L913.3 430.0 L933.3 436.7 L950.0 438.3 L970.0 441.7 L983.3 431.7" stroke="#d05e00" stroke-width="4"/>
<path d="M983.3 431.7 L1000.0 428.3 L1023.3 436.7" stroke="#d24c04" stroke-width="4"/>
<path d="M1023.3 436.7 L1031.7 427.5" stroke="#d43a08" stroke-width="4"/>
<path d="M1031.7 427.5 L1040.0 418.3" stroke="#d6280c" stroke-width="4"/>
<path d="M1040.0 418.3 L1060.0 418.3" stroke="#d81610" stroke-width="4"/>
<path d="M1060.0 418.3 L1080.0 423.3" stroke="#d6280c" stroke-width="4"/>
<path d="M1080.0 423.3 L1090.0 427.5" stroke="#d43a08" stroke-width="4"/>
<path d="M1090.0 427.5 L1100.0 431.7 L1110.0 435.8" stroke="#d05e00" stroke-width="4"/>
<path d="M1110.0 435.8 L1120.0 440.0 L1130.0 446.7" stroke="#ce7800" stroke-width="4"/>
<path d="M1130.0 446.7 L1140.0 453.3 L1153.3 458.3" stroke="#cc9200" stroke-width="4"/>
<path d="M1153.3 458.3 L1166.7 463.3 L1176.7 469.2" stroke="#c5a400" stroke-width="4"/>
<path d="M1176.7 469.2 L1186.7 475.0 L1195.0 475.8" stroke="#beb600" stroke-width="4"/>
<path d="M1195.0 475.8 L1203.3 476.7" stroke="#aab600" stroke-width="4"/>
<path d="M1203.3 476.7 L1214.2 482.5" stroke="#97b600" stroke-width="4"/>
<path d="M1214.2 482.5 L1225.0 488.3" stroke="#84b600" stroke-width="4"/>
<path d="M331.7 433.3 L336.2 430.0" stroke="#cd8500" stroke-width="4"/>
<path d="M336.2 430.0 L340.8 426.7" stroke="#cc9200" stroke-width="4"/>
<path d="M340.8 426.7 L345.4 423.3" stroke="#c89b00" stroke-width="4"/>
<path d="M345.4 423.3 L350.0 420.0" stroke="#c5a400" stroke-width="4"/>
<path d="M350.0 420.0 L366.7 425.0" stroke="#c2ad00" stroke-width="4"/>
<path d="M366.7 425.0 L386.7 430.0 L406.7 440.0 L423.3 445.0 L440.0 449.3 L456.7 446.7" stroke="#beb600" stroke-width="4"/>
<path d="M456.7 446.7 L462.2 442.2" stroke="#c2ad00" stroke-width="4"/>
<path d="M462.2 442.2 L467.8 437.8" stroke="#c5a400" stroke-width="4"/>
<path d="M467.8 437.8 L473.3 433.3" stroke="#c89b00" stroke-width="4"/>
<path d="M473.3 433.3 L480.0 427.5" stroke="#cc9200" stroke-width="4"/>
<path d="M480.0 427.5 L486.7 421.7 L496.7 418.3 L513.3 418.3 L530.0 421.7" stroke="#ce7800" stroke-width="4"/>
<path d="M530.0 421.7 L534.4 417.8" stroke="#cf6b00" stroke-width="4"/>
<path d="M534.4 417.8 L538.9 413.9" stroke="#d05e00" stroke-width="4"/>
<path d="M538.9 413.9 L543.3 410.0" stroke="#d24c04" stroke-width="4"/>
<path d="M543.3 410.0 L556.7 400.0" stroke="#d43a08" stroke-width="4"/>
<path d="M556.7 400.0 L573.3 390.0" stroke="#d6280c" stroke-width="4"/>
<path d="M573.3 390.0 L590.0 380.0 L606.7 385.0 L623.3 393.3 L633.3 395.0" stroke="#d81610" stroke-width="4"/>
<path d="M633.3 395.0 L643.3 396.7" stroke="#d43a08" stroke-width="4"/>
<path d="M643.3 396.7 L648.9 401.1" stroke="#d24c04" stroke-width="4"/>
<path d="M648.9 401.1 L654.4 405.6" stroke="#d05e00" stroke-width="4"/>
<path d="M654.4 405.6 L660.0 410.0" stroke="#cf6b00" stroke-width="4"/>
<path d="M660.0 410.0 L670.0 418.3" stroke="#cd8500" stroke-width="4"/>
<path d="M670.0 418.3 L680.0 426.7" stroke="#cc9200" stroke-width="4"/>
<path d="M680.0 426.7 L690.0 430.0" stroke="#c89b00" stroke-width="4"/>
<path d="M690.0 430.0 L700.0 433.3 L708.3 440.0" stroke="#c5a400" stroke-width="4"/>
<path d="M708.3 440.0 L716.7 446.7 L730.0 451.7 L746.7 448.3 L756.8 442.5" stroke="#beb600" stroke-width="4"/>
<path d="M756.8 442.5 L767.0 436.7 L775.2 431.7" stroke="#c5a400" stroke-width="4"/>
<path d="M775.2 431.7 L783.3 426.7" stroke="#cc9200" stroke-width="4"/>
<path d="M783.3 426.7 L787.8 423.9" stroke="#cd8500" stroke-width="4"/>
<path d="M787.8 423.9 L792.2 421.1" stroke="#ce7800" stroke-width="4"/>
<path d="M792.2 421.1 L796.7 418.3" stroke="#cf6b00" stroke-width="4"/>
<path d="M796.7 418.3 L813.3 423.3 L823.3 428.3" stroke="#d05e00" stroke-width="4"/>
<path d="M823.3 428.3 L828.9 426.1" stroke="#cf6b00" stroke-width="4"/>
<path d="M828.9 426.1 L834.4 423.9" stroke="#ce7800" stroke-width="4"/>
<path d="M834.4 423.9 L840.0 421.7" stroke="#cd8500" stroke-width="4"/>
<path d="M840.0 421.7 L845.6 420.9" stroke="#c89b00" stroke-width="4"/>
<path d="M845.6 420.9 L851.1 420.1" stroke="#c5a400" stroke-width="4"/>
<path d="M851.1 420.1 L856.7 419.3 L862.2 420.4" stroke="#c2ad00" stroke-width="4"/>
<path d="M862.2 420.4 L867.8 421.6" stroke="#c5a400" stroke-width="4"/>
<path d="M867.8 421.6 L873.3 422.7 L876.7 422.2" stroke="#c89b00" stroke-width="4"/>
<path d="M876.7 422.2 L880.0 421.7" stroke="#c2ad00" stroke-width="4"/>
<path d="M880.0 421.7 L883.3 421.2" stroke="#aab600" stroke-width="4"/>
<path d="M883.3 421.2 L886.7 420.7" stroke="#84b600" stroke-width="4"/>
<path d="M886.7 420.7 L893.3 418.7" stroke="#70b600" stroke-width="4"/>
<path d="M893.3 418.7 L900.0 416.7" stroke="#40b00c" stroke-width="4"/>
<path d="M900.0 416.7 L903.3 415.8" stroke="#58b306" stroke-width="4"/>
<path d="M903.3 415.8 L906.7 415.0" stroke="#70b600" stroke-width="4"/>
<path d="M906.7 415.0 L910.0 414.2" stroke="#97b600" stroke-width="4"/>
<path d="M910.0 414.2 L913.3 413.3" stroke="#aab600" stroke-width="4"/>
<path d="M913.3 413.3 L921.7 413.3" stroke="#beb600" stroke-width="4"/>
<path d="M921.7 413.3 L930.0 413.3" stroke="#c5a400" stroke-width="4"/>
<path d="M930.0 413.3 L935.6 414.4" stroke="#c89b00" stroke-width="4"/>
<path d="M935.6 414.4 L941.1 415.6" stroke="#cc9200" stroke-width="4"/>
<path d="M941.1 415.6 L946.7 416.7" stroke="#cd8500" stroke-width="4"/>
<path d="M946.7 416.7 L956.7 421.7" stroke="#ce7800" stroke-width="4"/>
<path d="M956.7 421.7 L970.0 428.3" stroke="#cf6b00" stroke-width="4"/>
<path d="M970.0 428.3 L980.0 423.3" stroke="#d05e00" stroke-width="4"/>
<path d="M980.0 423.3 L996.7 416.0" stroke="#cf6b00" stroke-width="4"/>
<path d="M996.7 416.0 L1010.0 409.3" stroke="#ce7800" stroke-width="4"/>
<path d="M1010.0 409.3 L1026.7 409.3" stroke="#cf6b00" stroke-width="4"/>
<path d="M1026.7 409.3 L1043.3 400.0 L1060.0 398.3" stroke="#d24c04" stroke-width="4"/>
<path d="M1060.0 398.3 L1073.3 405.0 L1081.7 409.2" stroke="#d05e00" stroke-width="4"/>
<path d="M1081.7 409.2 L1090.0 413.3 L1106.7 421.7" stroke="#ce7800" stroke-width="4"/>
<path d="M1106.7 421.7 L1123.3 430.0" stroke="#cd8500" stroke-width="4"/>
<path d="M1123.3 430.0 L1136.7 431.7 L1153.3 423.3 L1170.0 431.7" stroke="#cc9200" stroke-width="4"/>
<path d="M1170.0 431.7 L1190.0 428.3" stroke="#c89b00" stroke-width="4"/>
<path d="M1190.0 428.3 L1206.7 426.7 L1213.3 433.3" stroke="#c5a400" stroke-width="4"/>
<path d="M1213.3 433.3 L1220.0 440.0" stroke="#beb600" stroke-width="4"/>
<path d="M1220.0 440.0 L1227.8 446.1" stroke="#aab600" stroke-width="4"/>
<path d="M1227.8 446.1 L1235.6 452.2" stroke="#97b600" stroke-width="4"/>
<path d="M1235.6 452.2 L1243.3 458.3" stroke="#84b600" stroke-width="4"/>
<path d="M366.2 412.4 L370.6 414.2" stroke="#10aa18" stroke-width="4"/>
<path d="M370.6 414.2 L375.0 416.1" stroke="#28ad12" stroke-width="4"/>
<path d="M375.0 416.1 L380.6 417.4" stroke="#40b00c" stroke-width="4"/>
<path d="M380.6 417.4 L386.2 418.6" stroke="#58b306" stroke-width="4"/>
<path d="M386.2 418.6 L390.8 419.0" stroke="#84b600" stroke-width="4"/>
<path d="M390.8 419.0 L395.4 419.4" stroke="#97b600" stroke-width="4"/>
<path d="M395.4 419.4 L399.9 419.9" stroke="#aab600" stroke-width="4"/>
<path d="M399.9 419.9 L404.9 418.6" stroke="#beb600" stroke-width="4"/>
<path d="M404.9 418.6 L409.9 417.4" stroke="#c2ad00" stroke-width="4"/>
<path d="M409.9 417.4 L417.4 413.6" stroke="#c5a400" stroke-width="4"/>
<path d="M417.4 413.6 L424.9 409.9" stroke="#c89b00" stroke-width="4"/>
<path d="M424.9 409.9 L432.4 406.1" stroke="#cc9200" stroke-width="4"/>
<path d="M432.4 406.1 L439.9 402.4" stroke="#cd8500" stroke-width="4"/>
<path d="M439.9 402.4 L447.4 396.1" stroke="#ce7800" stroke-width="4"/>
<path d="M447.4 396.1 L454.9 389.9" stroke="#cf6b00" stroke-width="4"/>
<path d="M454.9 389.9 L469.9 382.4" stroke="#d05e00" stroke-width="4"/>
<path d="M469.9 382.4 L484.9 377.4" stroke="#d24c04" stroke-width="4"/>
<path d="M484.9 377.4 L499.9 369.9 L506.1 362.4" stroke="#d43a08" stroke-width="4"/>
<path d="M506.1 362.4 L512.4 354.9" stroke="#d81610" stroke-width="4"/>
<path d="M512.4 354.9 L524.9 354.9" stroke="#d52423" stroke-width="4"/>
<path d="M524.9 354.9 L537.4 352.4" stroke="#d23336" stroke-width="4"/>
<path d="M537.4 352.4 L549.9 342.4 L562.3 327.4" stroke="#d04249" stroke-width="4"/>
<path d="M562.3 327.4 L569.8 322.4 L582.3 328.7 L597.3 334.9 L612.3 339.9 L617.3 342.4" stroke="#cd505c" stroke-width="4"/>
<path d="M617.3 342.4 L622.3 344.9" stroke="#d04249" stroke-width="4"/>
<path d="M622.3 344.9 L627.3 349.9" stroke="#d23336" stroke-width="4"/>
<path d="M627.3 349.9 L632.3 354.9" stroke="#d52423" stroke-width="4"/>
<path d="M632.3 354.9 L642.3 364.9" stroke="#d6280c" stroke-width="4"/>
<path d="M642.3 364.9 L649.8 367.4 L657.3 369.9" stroke="#d43a08" stroke-width="4"/>
<path d="M657.3 369.9 L674.8 377.4 L689.8 379.9" stroke="#d24c04" stroke-width="4"/>
<path d="M689.8 379.9 L702.3 387.4 L719.8 392.4 L737.2 391.1 L749.7 387.4 L752.2 391.1" stroke="#d05e00" stroke-width="4"/>
<path d="M752.2 391.1 L754.7 394.9" stroke="#ce7800" stroke-width="4"/>
<path d="M754.7 394.9 L757.2 398.2" stroke="#cd8500" stroke-width="4"/>
<path d="M757.2 398.2 L759.7 401.5" stroke="#cc9200" stroke-width="4"/>
<path d="M759.7 401.5 L762.2 404.9" stroke="#c89b00" stroke-width="4"/>
<path d="M762.2 404.9 L767.2 409.9" stroke="#c5a400" stroke-width="4"/>
<path d="M767.2 409.9 L772.2 414.9 L774.7 416.5" stroke="#beb600" stroke-width="4"/>
<path d="M774.7 416.5 L777.2 418.2" stroke="#aab600" stroke-width="4"/>
<path d="M777.2 418.2 L779.7 419.9" stroke="#97b600" stroke-width="4"/>
<path d="M779.7 419.9 L784.7 423.6" stroke="#84b600" stroke-width="4"/>
<path d="M397.4 416.1 L401.2 413.0" stroke="#40b00c" stroke-width="4"/>
<path d="M401.2 413.0 L404.9 409.9 L412.4 399.9 L419.9 392.4" stroke="#10aa18" stroke-width="4"/>
<path d="M419.9 392.4 L422.4 389.0" stroke="#28ad12" stroke-width="4"/>
<path d="M422.4 389.0 L424.9 385.7" stroke="#40b00c" stroke-width="4"/>
<path d="M424.9 385.7 L427.4 382.4" stroke="#58b306" stroke-width="4"/>
<path d="M427.4 382.4 L429.3 379.9" stroke="#84b600" stroke-width="4"/>
<path d="M429.3 379.9 L431.2 377.4" stroke="#97b600" stroke-width="4"/>
<path d="M431.2 377.4 L433.0 374.9" stroke="#aab600" stroke-width="4"/>
<path d="M433.0 374.9 L434.9 372.4" stroke="#beb600" stroke-width="4"/>
<path d="M434.9 372.4 L442.4 362.4" stroke="#c2ad00" stroke-width="4"/>
<path d="M442.4 362.4 L449.9 352.4 L453.7 346.2" stroke="#c5a400" stroke-width="4"/>
<path d="M453.7 346.2 L457.4 339.9" stroke="#c89b00" stroke-width="4"/>
<path d="M457.4 339.9 L461.2 333.7" stroke="#cc9200" stroke-width="4"/>
<path d="M461.2 333.7 L464.9 327.4" stroke="#cd8500" stroke-width="4"/>
<path d="M464.9 327.4 L468.2 322.8" stroke="#ce7800" stroke-width="4"/>
<path d="M468.2 322.8 L471.6 318.3" stroke="#cf6b00" stroke-width="4"/>
<path d="M471.6 318.3 L474.9 313.7 L479.9 309.9" stroke="#d05e00" stroke-width="4"/>
<path d="M407.4 411.1 L417.4 402.4" stroke="#aab600" stroke-width="4"/>
<path d="M417.4 402.4 L423.7 397.4 L429.9 392.4" stroke="#beb600" stroke-width="4"/>
<path d="M429.9 392.4 L436.2 386.1" stroke="#c2ad00" stroke-width="4"/>
<path d="M436.2 386.1 L442.4 379.9" stroke="#c5a400" stroke-width="4"/>
<path d="M442.4 379.9 L448.7 374.9" stroke="#c89b00" stroke-width="4"/>
<path d="M448.7 374.9 L454.9 369.9 L462.4 364.9" stroke="#cc9200" stroke-width="4"/>
<path d="M462.4 364.9 L469.9 359.9" stroke="#cd8500" stroke-width="4"/>
<path d="M469.9 359.9 L484.9 352.4" stroke="#ce7800" stroke-width="4"/>
<path d="M484.9 352.4 L497.4 344.9" stroke="#cf6b00" stroke-width="4"/>
<path d="M497.4 344.9 L503.6 342.4" stroke="#d05e00" stroke-width="4"/>
<path d="M503.6 342.4 L509.9 339.9" stroke="#d24c04" stroke-width="4"/>
<path d="M509.9 339.9 L519.9 339.9" stroke="#d43a08" stroke-width="4"/>
<path d="M519.9 339.9 L529.9 332.4" stroke="#d6280c" stroke-width="4"/>
<path d="M529.9 332.4 L539.9 324.9" stroke="#d81610" stroke-width="4"/>
<path d="M539.9 324.9 L552.4 314.9" stroke="#d52423" stroke-width="4"/>
<path d="M552.4 314.9 L562.3 307.4" stroke="#d23336" stroke-width="4"/>
<path d="M562.3 307.4 L569.8 303.7 L577.3 309.9" stroke="#d04249" stroke-width="4"/>
<path d="M577.3 309.9 L589.8 313.7 L604.8 316.2 L619.8 316.2" stroke="#d23336" stroke-width="4"/>
<path d="M619.8 316.2 L634.8 317.4 L639.8 319.1" stroke="#d04249" stroke-width="4"/>
<path d="M639.8 319.1 L644.8 320.8" stroke="#d23336" stroke-width="4"/>
<path d="M644.8 320.8 L649.8 322.4" stroke="#d52423" stroke-width="4"/>
<path d="M649.8 322.4 L662.3 329.9" stroke="#d81610" stroke-width="4"/>
<path d="M662.3 329.9 L674.8 334.9" stroke="#d6280c" stroke-width="4"/>
<path d="M674.8 334.9 L684.8 342.4 L691.0 346.2" stroke="#d43a08" stroke-width="4"/>
<path d="M691.0 346.2 L697.3 349.9 L709.8 351.2 L724.8 352.4 L737.2 352.4 L749.7 351.2" stroke="#d05e00" stroke-width="4"/>
<path d="M749.7 351.2 L754.7 352.4" stroke="#cf6b00" stroke-width="4"/>
<path d="M754.7 352.4 L758.5 358.6" stroke="#ce7800" stroke-width="4"/>
<path d="M758.5 358.6 L762.2 364.9 L765.6 369.9" stroke="#cc9200" stroke-width="4"/>
<path d="M765.6 369.9 L768.9 374.9" stroke="#c89b00" stroke-width="4"/>
<path d="M768.9 374.9 L772.2 379.9" stroke="#c5a400" stroke-width="4"/>
<path d="M772.2 379.9 L782.2 394.9" stroke="#c2ad00" stroke-width="4"/>
<path d="M782.2 394.9 L787.2 401.1" stroke="#beb600" stroke-width="4"/>
<path d="M787.2 401.1 L792.2 407.4 L797.6 412.7" stroke="#97b600" stroke-width="4"/>
<path d="M797.6 412.7 L803.0 418.1" stroke="#70b600" stroke-width="4"/>
<path d="M434.9 372.4 L442.4 366.8" stroke="#c2ad00" stroke-width="4"/>
<path d="M442.4 366.8 L449.9 361.1" stroke="#c5a400" stroke-width="4"/>
<path d="M449.9 361.1 L457.4 358.0" stroke="#c89b00" stroke-width="4"/>
<path d="M457.4 358.0 L464.9 354.9 L479.9 347.4" stroke="#cc9200" stroke-width="4"/>
<path d="M479.9 347.4 L494.9 339.9 L502.4 339.3" stroke="#ce7800" stroke-width="4"/>
<path d="M502.4 339.3 L509.9 338.7" stroke="#d05e00" stroke-width="4"/>
<path d="M479.9 309.9 L489.9 308.7" stroke="#d05e00" stroke-width="4"/>
<path d="M489.9 308.7 L499.9 302.4 L512.4 294.9" stroke="#d24c04" stroke-width="4"/>
<path d="M512.4 294.9 L524.9 287.4" stroke="#d43a08" stroke-width="4"/>
<path d="M524.9 287.4 L531.1 283.7" stroke="#d6280c" stroke-width="4"/>
<path d="M531.1 283.7 L537.4 279.9 L549.9 278.7 L564.8 279.9" stroke="#d81610" stroke-width="4"/>
<path d="M564.8 279.9 L577.3 276.2 L587.3 274.9 L599.8 279.9" stroke="#d6280c" stroke-width="4"/>
<path d="M599.8 279.9 L612.3 284.9 L622.3 287.4 L632.3 279.9 L642.3 274.9 L649.8 284.9" stroke="#d43a08" stroke-width="4"/>
<path d="M649.8 284.9 L659.8 294.9" stroke="#d24c04" stroke-width="4"/>
<path d="M659.8 294.9 L674.8 299.9" stroke="#d05e00" stroke-width="4"/>
<path d="M674.8 299.9 L689.8 302.4" stroke="#cf6b00" stroke-width="4"/>
<path d="M689.8 302.4 L699.8 309.9 L704.8 314.9" stroke="#ce7800" stroke-width="4"/>
<path d="M704.8 314.9 L709.8 319.9" stroke="#cc9200" stroke-width="4"/>
<path d="M709.8 319.9 L713.9 323.3" stroke="#c89b00" stroke-width="4"/>
<path d="M713.9 323.3 L718.1 326.6" stroke="#c5a400" stroke-width="4"/>
<path d="M718.1 326.6 L722.3 329.9" stroke="#c2ad00" stroke-width="4"/>
<path d="M722.3 329.9 L732.3 331.2" stroke="#beb600" stroke-width="4"/>
<path d="M732.3 331.2 L736.4 332.4" stroke="#aab600" stroke-width="4"/>
<path d="M736.4 332.4 L740.6 333.7" stroke="#97b600" stroke-width="4"/>
<path d="M740.6 333.7 L744.7 334.9" stroke="#84b600" stroke-width="4"/>
<path d="M744.7 334.9 L751.4 335.3" stroke="#70b600" stroke-width="4"/>
<path d="M751.4 335.3 L758.1 335.7" stroke="#58b306" stroke-width="4"/>
<path d="M758.1 335.7 L764.7 336.2" stroke="#40b00c" stroke-width="4"/>
<path d="M764.7 336.2 L779.7 337.4 L789.7 339.9 L799.7 346.2 L812.2 344.9" stroke="#28ad12" stroke-width="4"/>
<path d="M812.2 344.9 L822.2 339.9 L827.2 333.7" stroke="#40b00c" stroke-width="4"/>
<path d="M827.2 333.7 L832.2 327.4 L835.9 322.4" stroke="#70b600" stroke-width="4"/>
<path d="M835.9 322.4 L839.7 317.4 L844.7 313.7" stroke="#97b600" stroke-width="4"/>
<path d="M844.7 313.7 L849.7 309.9" stroke="#beb600" stroke-width="4"/>
<path d="M849.7 309.9 L859.7 304.9 L864.7 299.9" stroke="#c2ad00" stroke-width="4"/>
<path d="M864.7 299.9 L872.2 293.7" stroke="#c5a400" stroke-width="4"/>
<path d="M872.2 293.7 L879.7 287.4" stroke="#c89b00" stroke-width="4"/>
<path d="M879.7 287.4 L897.2 272.4" stroke="#cc9200" stroke-width="4"/>
<path d="M897.2 272.4 L914.6 263.7 L919.6 266.8" stroke="#cd8500" stroke-width="4"/>
<path d="M919.6 266.8 L924.6 269.9" stroke="#cc9200" stroke-width="4"/>
<path d="M924.6 269.9 L930.9 274.9" stroke="#c89b00" stroke-width="4"/>
<path d="M930.9 274.9 L937.1 279.9" stroke="#c5a400" stroke-width="4"/>
<path d="M937.1 279.9 L941.3 282.4" stroke="#c2ad00" stroke-width="4"/>
<path d="M941.3 282.4 L945.5 284.9" stroke="#beb600" stroke-width="4"/>
<path d="M945.5 284.9 L949.6 287.4" stroke="#aab600" stroke-width="4"/>
<path d="M949.6 287.4 L955.9 290.6" stroke="#97b600" stroke-width="4"/>
<path d="M955.9 290.6 L962.1 293.7 L967.1 295.6" stroke="#70b600" stroke-width="4"/>
<path d="M967.1 295.6 L972.1 297.4" stroke="#40b00c" stroke-width="4"/>
<path d="M972.1 297.4 L979.6 307.4 L984.6 317.4" stroke="#28ad12" stroke-width="4"/>
<path d="M984.6 317.4 L989.6 322.4" stroke="#10aa18" stroke-width="4"/>
<path d="M559.9 269.4 L564.8 267.8" stroke="#d23336" stroke-width="4"/>
<path d="M564.8 267.8 L569.8 266.2" stroke="#d81610" stroke-width="4"/>
<path d="M569.8 266.2 L574.0 262.0" stroke="#d6280c" stroke-width="4"/>
<path d="M574.0 262.0 L578.2 257.9" stroke="#d43a08" stroke-width="4"/>
<path d="M578.2 257.9 L582.3 253.7" stroke="#d24c04" stroke-width="4"/>
<path d="M582.3 253.7 L594.8 255.0 L607.3 258.7 L622.3 261.2 L627.3 260.4" stroke="#d05e00" stroke-width="4"/>
<path d="M627.3 260.4 L632.3 259.5" stroke="#cf6b00" stroke-width="4"/>
<path d="M632.3 259.5 L637.3 258.7" stroke="#ce7800" stroke-width="4"/>
<path d="M637.3 258.7 L649.8 265.0 L662.3 274.9" stroke="#cd8500" stroke-width="4"/>
<path d="M662.3 274.9 L674.8 279.9 L679.8 282.4" stroke="#cc9200" stroke-width="4"/>
<path d="M679.8 282.4 L687.3 286.2" stroke="#c89b00" stroke-width="4"/>
<path d="M687.3 286.2 L694.8 289.9 L702.3 293.7" stroke="#c5a400" stroke-width="4"/>
<path d="M702.3 293.7 L709.8 297.4 L717.3 297.4" stroke="#beb600" stroke-width="4"/>
<path d="M717.3 297.4 L724.8 297.4" stroke="#aab600" stroke-width="4"/>
<path d="M724.8 297.4 L732.3 301.2" stroke="#97b600" stroke-width="4"/>
<path d="M732.3 301.2 L739.7 304.9" stroke="#84b600" stroke-width="4"/>
<path d="M739.7 304.9 L746.0 309.9" stroke="#70b600" stroke-width="4"/>
<path d="M746.0 309.9 L752.2 314.9" stroke="#58b306" stroke-width="4"/>
<path d="M752.2 314.9 L758.5 318.7" stroke="#40b00c" stroke-width="4"/>
<path d="M758.5 318.7 L764.7 322.4 L779.7 324.9 L792.2 322.4 L804.7 324.9 L814.7 326.2 L819.7 324.9" stroke="#28ad12" stroke-width="4"/>
<path d="M819.7 324.9 L824.7 323.7" stroke="#40b00c" stroke-width="4"/>
<path d="M824.7 323.7 L829.7 321.8" stroke="#58b306" stroke-width="4"/>
<path d="M829.7 321.8 L834.7 319.9" stroke="#70b600" stroke-width="4"/>
<path d="M834.7 319.9 L838.0 316.6" stroke="#84b600" stroke-width="4"/>
<path d="M838.0 316.6 L841.4 313.3" stroke="#97b600" stroke-width="4"/>
<path d="M841.4 313.3 L844.7 309.9" stroke="#aab600" stroke-width="4"/>
<path d="M844.7 309.9 L854.7 304.9" stroke="#beb600" stroke-width="4"/>
<path d="M642.3 246.2 L657.3 251.2 L674.8 243.0 L679.8 242.5 L692.3 247.5" stroke="#cc9200" stroke-width="4"/>
<path d="M692.3 247.5 L707.3 252.5 L711.4 255.0" stroke="#c89b00" stroke-width="4"/>
<path d="M711.4 255.0 L715.6 257.5" stroke="#c5a400" stroke-width="4"/>
<path d="M715.6 257.5 L719.8 260.0" stroke="#c2ad00" stroke-width="4"/>
<path d="M719.8 260.0 L723.9 263.7" stroke="#aab600" stroke-width="4"/>
<path d="M723.9 263.7 L728.1 267.4" stroke="#97b600" stroke-width="4"/>
<path d="M728.1 267.4 L732.3 271.2" stroke="#84b600" stroke-width="4"/>
<path d="M732.3 271.2 L738.5 275.6" stroke="#70b600" stroke-width="4"/>
<path d="M738.5 275.6 L744.7 279.9" stroke="#40b00c" stroke-width="4"/>
<path d="M744.7 279.9 L757.2 289.9 L769.7 299.9" stroke="#28ad12" stroke-width="4"/>
<path d="M769.7 299.9 L784.7 309.9 L797.2 319.9 L809.7 322.4" stroke="#10aa18" stroke-width="4"/>
<path d="M749.7 227.5 L756.0 235.0" stroke="#70b600" stroke-width="4"/>
<path d="M756.0 235.0 L762.2 242.5" stroke="#58b306" stroke-width="4"/>
<path d="M762.2 242.5 L774.7 257.5" stroke="#40b00c" stroke-width="4"/>
<path d="M774.7 257.5 L787.2 269.9" stroke="#28ad12" stroke-width="4"/>
<path d="M787.2 269.9 L797.2 284.9 L800.5 287.9" stroke="#10aa18" stroke-width="4"/>
<path d="M800.5 287.9 L803.9 290.8" stroke="#0ca228" stroke-width="4"/>
<path d="M803.9 290.8 L807.2 293.7" stroke="#089a38" stroke-width="4"/>
<path d="M807.2 293.7 L817.2 289.9" stroke="#049248" stroke-width="4"/>
<path d="M817.2 289.9 L822.2 293.7" stroke="#008a58" stroke-width="4"/>
<path d="M822.2 293.7 L827.2 297.4 L832.2 302.4" stroke="#007970" stroke-width="4"/>
<path d="M832.2 302.4 L837.2 307.4" stroke="#006888" stroke-width="4"/>
<path d="M837.2 307.4 L849.7 304.9" stroke="#00707c" stroke-width="4"/>
<path d="M849.7 304.9 L853.0 304.1" stroke="#008264" stroke-width="4"/>
<path d="M853.0 304.1 L856.3 303.3" stroke="#089a38" stroke-width="4"/>
<path d="M856.3 303.3 L859.7 302.4" stroke="#28ad12" stroke-width="4"/>
<path d="M917.1 342.4 L929.6 344.9" stroke="#40b00c" stroke-width="4"/>
<path d="M929.6 344.9 L944.6 346.2" stroke="#28ad12" stroke-width="4"/>
<path d="M944.6 346.2 L962.1 344.9 L974.6 342.4 L989.6 342.4 L1004.6 344.9" stroke="#40b00c" stroke-width="4"/>
<path d="M1004.6 344.9 L1019.6 343.7 L1029.6 338.7" stroke="#28ad12" stroke-width="4"/>
<path d="M1029.6 338.7 L1039.6 334.9 L1049.6 338.7" stroke="#40b00c" stroke-width="4"/>
<path d="M1049.6 338.7 L1059.6 342.4 L1074.6 344.9 L1084.5 349.9 L1099.5 357.4 L1112.0 358.6 L1124.5 354.9" stroke="#28ad12" stroke-width="4"/>
<path d="M1124.5 354.9 L1129.5 357.4" stroke="#58b306" stroke-width="4"/>
<path d="M1129.5 357.4 L1132.0 354.9" stroke="#84b600" stroke-width="4"/>
<path d="M1132.0 354.9 L1134.5 352.4" stroke="#aab600" stroke-width="4"/>
<path d="M854.7 304.9 L864.7 307.4" stroke="#c2ad00" stroke-width="4"/>
<path d="M864.7 307.4 L874.7 312.4" stroke="#beb600" stroke-width="4"/>
<path d="M874.7 312.4 L887.2 319.9" stroke="#aab600" stroke-width="4"/>
<path d="M887.2 319.9 L893.4 323.7 L899.7 327.4" stroke="#97b600" stroke-width="4"/>
<path d="M899.7 327.4 L909.6 337.4" stroke="#84b600" stroke-width="4"/>
<path d="M909.6 337.4 L913.4 339.9" stroke="#70b600" stroke-width="4"/>
<path d="M913.4 339.9 L917.1 342.4" stroke="#40b00c" stroke-width="4"/>
<path d="M989.6 312.4 L997.1 297.4" stroke="#10aa18" stroke-width="4"/>
<path d="M997.1 297.4 L1007.1 284.9 L1019.6 279.9 L1032.1 274.9 L1042.1 273.7 L1052.1 279.9 L1059.6 287.4 L1069.6 277.4 L1082.1 271.2 L1097.0 274.9 L1114.5 278.7" stroke="#0ca228" stroke-width="4"/>
<path d="M989.6 309.9 L1002.1 304.9" stroke="#28ad12" stroke-width="4"/>
<path d="M1002.1 304.9 L1014.6 294.9 L1027.1 289.9" stroke="#10aa18" stroke-width="4"/>
<path d="M1027.1 289.9 L1037.1 294.9 L1047.1 299.9" stroke="#0ca228" stroke-width="4"/>
<path d="M1047.1 299.9 L1059.6 307.4 L1069.6 302.4 L1079.6 298.7 L1089.5 309.9" stroke="#089a38" stroke-width="4"/>
<path d="M1089.5 309.9 L1097.0 317.4 L1107.0 312.4" stroke="#049248" stroke-width="4"/>
<path d="M1107.0 312.4 L1114.5 307.4 L1118.3 311.2" stroke="#089a38" stroke-width="4"/>
<path d="M1118.3 311.2 L1122.0 314.9" stroke="#049248" stroke-width="4"/>
<path d="M1122.0 314.9 L1127.0 319.9" stroke="#008a58" stroke-width="4"/>
<path d="M1127.0 319.9 L1132.0 324.9" stroke="#008264" stroke-width="4"/>
<path d="M1132.0 324.9 L1142.0 327.4 L1152.0 329.9 L1164.5 326.2" stroke="#007970" stroke-width="4"/>
<path d="M1164.5 326.2 L1177.0 323.7" stroke="#008264" stroke-width="4"/>
<path d="M1177.0 323.7 L1181.2 322.4" stroke="#049248" stroke-width="4"/>
<path d="M1181.2 322.4 L1185.3 321.2" stroke="#089a38" stroke-width="4"/>
<path d="M1185.3 321.2 L1189.5 319.9" stroke="#0ca228" stroke-width="4"/>
<path d="M1189.5 319.9 L1204.5 318.7" stroke="#10aa18" stroke-width="4"/>
<path d="M1204.5 318.7 L1219.5 316.2" stroke="#28ad12" stroke-width="4"/>
<path d="M987.1 322.4 L1004.6 322.4 L1014.6 314.9 L1024.6 308.7 L1037.1 307.4 L1049.6 311.2" stroke="#40b00c" stroke-width="4"/>
<path d="M1049.6 311.2 L1062.1 316.2 L1077.1 318.7" stroke="#28ad12" stroke-width="4"/>
<path d="M1077.1 318.7 L1089.5 324.9 L1097.0 327.4" stroke="#10aa18" stroke-width="4"/>
<path d="M1097.0 327.4 L1104.5 329.9" stroke="#0ca228" stroke-width="4"/>
<path d="M1104.5 329.9 L1112.0 332.4" stroke="#089a38" stroke-width="4"/>
<path d="M1112.0 332.4 L1119.5 334.9" stroke="#049248" stroke-width="4"/>
<path d="M1119.5 334.9 L1125.8 338.7" stroke="#008a58" stroke-width="4"/>
<path d="M1125.8 338.7 L1132.0 342.4" stroke="#008264" stroke-width="4"/>
<path d="M1132.0 342.4 L1144.5 343.7 L1154.5 342.4" stroke="#007970" stroke-width="4"/>
<path d="M1154.5 342.4 L1160.8 338.7" stroke="#008264" stroke-width="4"/>
<path d="M1160.8 338.7 L1167.0 334.9" stroke="#008a58" stroke-width="4"/>
<path d="M1167.0 334.9 L1170.3 333.2" stroke="#089a38" stroke-width="4"/>
<path d="M1170.3 333.2 L1173.7 331.6" stroke="#0ca228" stroke-width="4"/>
<path d="M1173.7 331.6 L1177.0 329.9 L1180.7 328.7" stroke="#10aa18" stroke-width="4"/>
<path d="M1180.7 328.7 L1184.5 327.4" stroke="#40b00c" stroke-width="4"/>
<path d="M769.7 359.9 L774.7 359.9" stroke="#70b600" stroke-width="4"/>
<path d="M774.7 359.9 L779.7 359.9" stroke="#40b00c" stroke-width="4"/>
<path d="M779.7 359.9 L797.2 363.6 L814.7 364.9" stroke="#28ad12" stroke-width="4"/>
<path d="M814.7 364.9 L829.7 367.4 L842.2 372.4" stroke="#10aa18" stroke-width="4"/>
<path d="M842.2 372.4 L854.7 379.9 L864.7 377.4" stroke="#0ca228" stroke-width="4"/>
<path d="M864.7 377.4 L877.2 374.9" stroke="#10aa18" stroke-width="4"/>
<path d="M877.2 374.9 L889.7 379.9" stroke="#0ca228" stroke-width="4"/>
<path d="M889.7 379.9 L899.7 387.4 L904.7 391.1" stroke="#089a38" stroke-width="4"/>
<path d="M904.7 391.1 L909.6 394.9" stroke="#008a58" stroke-width="4"/>
<path d="M909.6 394.9 L912.1 396.5" stroke="#049248" stroke-width="4"/>
<path d="M912.1 396.5 L914.6 398.2" stroke="#089a38" stroke-width="4"/>
<path d="M914.6 398.2 L917.1 399.9" stroke="#0ca228" stroke-width="4"/>
<path d="M917.1 399.9 L929.6 399.9 L934.6 400.7" stroke="#10aa18" stroke-width="4"/>
<path d="M934.6 400.7 L939.6 401.5" stroke="#0ca228" stroke-width="4"/>
<path d="M939.6 401.5 L944.6 402.4 L954.6 402.4 L969.6 401.1 L974.6 396.8" stroke="#049248" stroke-width="4"/>
<path d="M974.6 396.8 L979.6 392.4 L992.1 386.1" stroke="#0ca228" stroke-width="4"/>
<path d="M992.1 386.1 L1012.1 384.9 L1018.3 381.1" stroke="#10aa18" stroke-width="4"/>
<path d="M1018.3 381.1 L1024.6 377.4" stroke="#40b00c" stroke-width="4"/>
<path d="M1024.6 377.4 L1034.6 362.4 L1042.1 358.6" stroke="#58b306" stroke-width="4"/>
<path d="M1042.1 358.6 L1052.1 362.4 L1062.1 369.9" stroke="#40b00c" stroke-width="4"/>
<path d="M1062.1 369.9 L1074.6 377.4 L1089.5 377.4 L1097.0 374.9" stroke="#28ad12" stroke-width="4"/>
<path d="M1097.0 374.9 L1104.5 372.4" stroke="#40b00c" stroke-width="4"/>
<path d="M1104.5 372.4 L1109.5 371.1" stroke="#58b306" stroke-width="4"/>
<path d="M1109.5 371.1 L1114.5 369.9" stroke="#70b600" stroke-width="4"/>
<path d="M1114.5 369.9 L1117.0 366.6" stroke="#84b600" stroke-width="4"/>
<path d="M1117.0 366.6 L1119.5 363.2" stroke="#97b600" stroke-width="4"/>
<path d="M1119.5 363.2 L1122.0 359.9" stroke="#aab600" stroke-width="4"/>
<path d="M1122.0 359.9 L1124.5 357.4" stroke="#c2ad00" stroke-width="4"/>
<path d="M1124.5 357.4 L1127.0 354.9" stroke="#c89b00" stroke-width="4"/>
<path d="M1127.0 354.9 L1129.5 352.4" stroke="#cd8500" stroke-width="4"/>
<path d="M1129.5 352.4 L1133.3 350.2" stroke="#ce7800" stroke-width="4"/>
<path d="M1133.3 350.2 L1137.0 347.9" stroke="#d05e00" stroke-width="4"/>
<path d="M1137.0 347.9 L1149.5 344.9 L1164.5 346.2 L1179.5 346.2" stroke="#d24c04" stroke-width="4"/>
<path d="M1179.5 346.2 L1194.5 347.4 L1204.5 352.4" stroke="#d05e00" stroke-width="4"/>
<path d="M1204.5 352.4 L1214.5 357.4" stroke="#cf6b00" stroke-width="4"/>
<path d="M1214.5 357.4 L1229.5 364.9 L1237.0 365.5" stroke="#ce7800" stroke-width="4"/>
<path d="M1237.0 365.5 L1244.5 366.1 L1254.5 372.4" stroke="#cc9200" stroke-width="4"/>
<path d="M1254.5 372.4 L1264.4 379.9" stroke="#c89b00" stroke-width="4"/>
<path d="M1059.6 377.4 L1069.6 379.9 L1079.6 377.4" stroke="#28ad12" stroke-width="4"/>
<path d="M1079.6 377.4 L1092.0 372.4 L1104.5 373.6" stroke="#40b00c" stroke-width="4"/>
<path d="M1104.5 373.6 L1114.5 374.9" stroke="#58b306" stroke-width="4"/>
<path d="M1082.1 387.4 L1099.5 379.9 L1114.5 377.4" stroke="#beb600" stroke-width="4"/>
<path d="M1174.5 339.9 L1184.5 334.9" stroke="#c2ad00" stroke-width="4"/>
<path d="M1184.5 334.9 L1192.0 335.5" stroke="#beb600" stroke-width="4"/>
<path d="M1192.0 335.5 L1199.5 336.2 L1204.5 334.1" stroke="#97b600" stroke-width="4"/>
<path d="M1204.5 334.1 L1209.5 332.0" stroke="#aab600" stroke-width="4"/>
<path d="M1209.5 332.0 L1214.5 329.9" stroke="#beb600" stroke-width="4"/>
<path d="M1214.5 329.9 L1229.5 329.9 L1239.5 331.2 L1249.5 328.7" stroke="#c2ad00" stroke-width="4"/>
<path d="M1249.5 328.7 L1252.8 328.2" stroke="#beb600" stroke-width="4"/>
<path d="M1252.8 328.2 L1256.1 327.8" stroke="#aab600" stroke-width="4"/>
<path d="M1256.1 327.8 L1259.4 327.4 L1266.9 334.9 L1274.4 344.9" stroke="#97b600" stroke-width="4"/>
<path d="M1174.5 339.9 L1184.5 335.4" stroke="#cc9200" stroke-width="4"/>
<path d="M1184.5 335.4 L1199.5 336.7" stroke="#ce7800" stroke-width="4"/>
<path d="M1199.5 336.7 L1212.0 339.9 L1224.5 342.4" stroke="#cf6b00" stroke-width="4"/>
<path d="M1224.5 342.4 L1239.5 337.4" stroke="#ce7800" stroke-width="4"/>
<path d="M1239.5 337.4 L1249.5 334.9" stroke="#cd8500" stroke-width="4"/>
<path d="M1249.5 334.9 L1256.9 329.9" stroke="#cc9200" stroke-width="4"/>
<path d="M1059.6 392.4 L1062.6 391.9" stroke="#84b600" stroke-width="4"/>
<path d="M1062.6 391.9 L1065.6 391.4" stroke="#97b600" stroke-width="4"/>
<path d="M1065.6 391.4 L1068.6 390.9" stroke="#beb600" stroke-width="4"/>
<path d="M1068.6 390.9 L1071.6 390.4" stroke="#c5a400" stroke-width="4"/>
<path d="M1071.6 390.4 L1074.6 389.9" stroke="#c89b00" stroke-width="4"/>
<path d="M1074.6 389.9 L1082.1 391.1" stroke="#cc9200" stroke-width="4"/>
<path d="M1082.1 391.1 L1089.5 392.4" stroke="#cd8500" stroke-width="4"/>
<path d="M1089.5 392.4 L1099.5 393.0" stroke="#ce7800" stroke-width="4"/>
<path d="M1099.5 393.0 L1109.5 393.6" stroke="#cf6b00" stroke-width="4"/>
<path d="M1109.5 393.6 L1127.0 394.9" stroke="#d05e00" stroke-width="4"/>
<path d="M1127.0 394.9 L1144.5 389.9 L1159.5 388.6" stroke="#d24c04" stroke-width="4"/>
<path d="M1159.5 388.6 L1172.0 384.9 L1187.0 377.4" stroke="#d43a08" stroke-width="4"/>
<path d="M1187.0 377.4 L1199.5 379.9 L1204.5 382.4" stroke="#d24c04" stroke-width="4"/>
<path d="M1204.5 382.4 L1209.5 384.9" stroke="#d05e00" stroke-width="4"/>
<path d="M1209.5 384.9 L1215.7 391.1" stroke="#cf6b00" stroke-width="4"/>
<path d="M1215.7 391.1 L1222.0 397.4" stroke="#ce7800" stroke-width="4"/>
<path d="M1222.0 397.4 L1228.2 402.4" stroke="#cd8500" stroke-width="4"/>
<path d="M1228.2 402.4 L1234.5 407.4" stroke="#cc9200" stroke-width="4"/>
<path d="M1234.5 407.4 L1240.7 411.1" stroke="#c89b00" stroke-width="4"/>
<path d="M1240.7 411.1 L1247.0 414.9" stroke="#c5a400" stroke-width="4"/>
<path d="M1247.0 414.9 L1259.4 421.1" stroke="#c2ad00" stroke-width="4"/>
<path d="M781.8 361.8 L789.0 370.9" stroke="#40b00c" stroke-width="4"/>
<path d="M789.0 370.9 L798.1 381.8" stroke="#28ad12" stroke-width="4"/>
<path d="M798.1 381.8 L807.2 389.0" stroke="#10aa18" stroke-width="4"/>
<path d="M807.2 389.0 L814.5 394.5" stroke="#0ca228" stroke-width="4"/>
<path d="M814.5 394.5 L821.7 401.8" stroke="#089a38" stroke-width="4"/>
<path d="M821.7 401.8 L829.0 410.8" stroke="#049248" stroke-width="4"/>
<path d="M829.0 410.8 L836.3 416.3" stroke="#008a58" stroke-width="4"/>
<path d="M879.9 423.6 L884.4 421.7" stroke="#70b600" stroke-width="4"/>
<path d="M884.4 421.7 L889.0 419.9 L898.1 416.3" stroke="#40b00c" stroke-width="4"/>
<path d="M898.1 416.3 L909.0 407.2" stroke="#28ad12" stroke-width="4"/>
<path d="M909.0 407.2 L916.2 399.0" stroke="#10aa18" stroke-width="4"/>
<path d="M847.2 419.9 L861.7 419.0 L866.3 421.3" stroke="#c2ad00" stroke-width="4"/>
<path d="M866.3 421.3 L870.8 423.6" stroke="#c89b00" stroke-width="4"/>
<path d="M549.0 271.2 L552.6 271.5" stroke="#d24c04" stroke-width="4"/>
<path d="M552.6 271.5 L556.3 271.8" stroke="#d6280c" stroke-width="4"/>
<path d="M556.3 271.8 L559.9 272.1" stroke="#d81610" stroke-width="4"/>
<path d="M559.9 272.1 L563.5 272.9" stroke="#d52423" stroke-width="4"/>
<path d="M563.5 272.9 L567.2 273.7" stroke="#d81610" stroke-width="4"/>
<path d="M567.2 273.7 L570.8 274.5" stroke="#d6280c" stroke-width="4"/>
<path d="M570.8 274.5 L577.2 274.1" stroke="#d43a08" stroke-width="4"/>
<path d="M577.2 274.1 L583.5 273.6" stroke="#d24c04" stroke-width="4"/>
<path d="M583.5 273.6 L594.4 276.3" stroke="#d05e00" stroke-width="4"/>
<path d="M594.4 276.3 L601.7 280.0" stroke="#d24c04" stroke-width="4"/>
<path d="M476.3 350.8 L487.2 345.4" stroke="#cc9200" stroke-width="4"/>
<path d="M487.2 345.4 L498.1 339.9 L514.5 339.9" stroke="#cd8500" stroke-width="4"/>
<path d="M514.5 339.9 L519.9 338.1" stroke="#d05e00" stroke-width="4"/>
<path d="M519.9 338.1 L523.5 336.3" stroke="#d43a08" stroke-width="4"/>
<path d="M523.5 336.3 L527.2 334.5" stroke="#d6280c" stroke-width="4"/>
</g>
<g id="wire-b" fill="none" stroke-linecap="round" stroke-linejoin="round">
<path d="M187.0 1659.0 L1108.0 1659.0" stroke="#c6c6c6" stroke-width="4.6" stroke-linecap="butt"/>
<path d="M189.3 1658.3 L189.3 1677.0" stroke="#c4c4c4" stroke-width="4.0"/>
<path d="M278.0 1658.3 L278.0 1677.0" stroke="#c4c4c4" stroke-width="4.0"/>
<path d="M366.8 1658.3 L366.8 1677.0" stroke="#c4c4c4" stroke-width="4.0"/>
<path d="M455.5 1658.3 L455.5 1677.0" stroke="#c4c4c4" stroke-width="3.4"/>
<path d="M544.2 1658.3 L544.2 1677.0" stroke="#c4c4c4" stroke-width="3.4"/>
<path d="M633.0 1658.3 L633.0 1677.0" stroke="#c4c4c4" stroke-width="3.4"/>
<path d="M721.7 1658.3 L721.7 1677.0" stroke="#c4c4c4" stroke-width="3.4"/>
<path d="M810.4 1658.3 L810.4 1677.0" stroke="#c4c4c4" stroke-width="3.4"/>
<path d="M899.1 1658.3 L899.1 1677.0" stroke="#c4c4c4" stroke-width="3.4"/>
<path d="M987.9 1658.3 L987.9 1677.0" stroke="#c4c4c4" stroke-width="3.4"/>
<path d="M1076.6 1658.3 L1076.6 1677.0" stroke="#c4c4c4" stroke-width="3.4"/>
<path d="M1078.3 1657.5 L1360.5 1260.0" stroke="#bdbdbd" stroke-width="4.2"/>
<path d="M1127.3 1591.2 L1155.3 1591.2" stroke="#b0b0b0" stroke-width="3.4"/>
<path d="M1174.3 1525.0 L1202.3 1525.0" stroke="#b0b0b0" stroke-width="3.4"/>
<path d="M1221.3 1458.8 L1249.3 1458.8" stroke="#b0b0b0" stroke-width="3.4"/>
<path d="M1268.3 1392.5 L1296.3 1392.5" stroke="#b0b0b0" stroke-width="3.4"/>
<path d="M1315.3 1326.2 L1343.3 1326.2" stroke="#b0b0b0" stroke-width="3.4"/>
<path d="M542.7 1656.7 L550.0 1613.3 L560.0 1551.7" stroke="#525252" stroke-width="3.4"/>
<path d="M701.7 1541.7 L710.0 1596.7 L719.3 1656.7" stroke="#525252" stroke-width="3.4"/>
<path d="M206.0 1634.0 L420.0 1634.0 L426.7 1563.3 L436.7 1486.7" stroke="#525252" stroke-width="3.4"/>
<path d="M863.3 1463.3 L870.0 1530.0 L876.7 1596.7 L883.3 1633.3 L1093.3 1633.3" stroke="#525252" stroke-width="3.4"/>
<path d="M223.3 1609.0 L366.7 1609.0 L373.3 1530.0 L385.0 1428.3" stroke="#525252" stroke-width="3.4"/>
<path d="M951.7 1441.7 L956.7 1496.7 L963.3 1563.3 L970.0 1608.3 L1110.0 1608.3" stroke="#525252" stroke-width="3.4"/>
<path d="M241.7 1586.0 L331.7 1586.0 L340.0 1496.7 L350.0 1401.7" stroke="#525252" stroke-width="3.4"/>
<path d="M1023.3 1396.7 L1028.3 1463.3 L1035.0 1530.0 L1041.7 1585.0 L1126.7 1585.0" stroke="#525252" stroke-width="3.4"/>
<path d="M258.3 1560.7 L295.0 1560.7" stroke="#7a7a7a" stroke-width="3.4"/>
<path d="M295.0 1560.7 L296.7 1513.3 L303.3 1446.7 L311.7 1380.0 L312.3 1313.3" stroke="#b4b4b4" stroke-width="4.2"/>
<path d="M1093.3 1385.0 L1100.0 1446.7 L1106.7 1513.3 L1113.3 1560.0 L1143.3 1560.0" stroke="#525252" stroke-width="3.4"/>
<path d="M277.3 1535.0 L295.0 1535.0" stroke="#525252" stroke-width="3.4"/>
<path d="M1130.0 1338.3 L1135.0 1413.3 L1141.7 1480.0 L1148.3 1535.0 L1161.7 1535.0" stroke="#525252" stroke-width="3.4"/>
<path d="M1163.3 1315.0 L1173.3 1413.3 L1183.3 1496.7 L1185.0 1506.7" stroke="#525252" stroke-width="3.4"/>
<path d="M1200.0 1298.3 L1201.7 1480.0" stroke="#525252" stroke-width="3.4"/>
<path d="M1216.7 1290.0 L1218.3 1456.7" stroke="#525252" stroke-width="3.4"/>
<path d="M1235.0 1280.0 L1236.7 1433.3" stroke="#525252" stroke-width="3.4"/>
<path d="M1253.3 1271.7 L1255.0 1406.7" stroke="#525252" stroke-width="3.4"/>
<path d="M386.7 1266.7 L401.7 1248.3" stroke="#707070" stroke-width="3.2"/>
<path d="M420.0 1253.3 L436.7 1233.3" stroke="#707070" stroke-width="3.2"/>
<path d="M475.0 1231.7 L490.0 1223.3" stroke="#707070" stroke-width="3.2"/>
<path d="M543.3 1210.0 L560.0 1190.0" stroke="#707070" stroke-width="3.2"/>
<path d="M613.3 1190.0 L630.0 1158.3" stroke="#707070" stroke-width="3.2"/>
<path d="M720.0 1126.7 L736.7 1111.7" stroke="#806060" stroke-width="3.2"/>
<path d="M773.3 1125.0 L790.0 1091.7" stroke="#804030" stroke-width="3.2"/>
<path d="M1093.3 1203.3 L1110.0 1225.0" stroke="#606060" stroke-width="3.2"/>
<path d="M1163.3 1221.7 L1180.0 1240.0" stroke="#606060" stroke-width="3.2"/>
<path d="M1196.7 1240.0 L1216.7 1261.7" stroke="#606060" stroke-width="3.2"/>
<path d="M1216.7 1260.0 L1360.0 1260.0" stroke="#505050" stroke-width="4"/>
<path d="M1266.7 1283.3 L1343.3 1283.3" stroke="#505050" stroke-width="4"/>
<path d="M1273.3 1310.0 L1323.3 1310.0" stroke="#505050" stroke-width="4"/>
<path d="M1253.3 1336.7 L1306.7 1336.7" stroke="#585858" stroke-width="3.2"/>
<path d="M1270.0 1360.0 L1290.0 1360.0" stroke="#585858" stroke-width="3.2"/>
<path d="M1253.3 1270.0 L1255.0 1380.0" stroke="#585858" stroke-width="3.4"/>
<path d="M1260.0 1280.0 L1266.7 1320.0 L1273.3 1360.0" stroke="#606060" stroke-width="3.2"/>
<path d="M1235.0 1280.0 L1236.7 1433.3" stroke="#585858" stroke-width="3.4"/>
<path d="M560.0 1551.7 L580.0 1550.0 L596.7 1548.3 L605.0 1553.3" stroke="#b1a900" stroke-width="4"/>
<path d="M605.0 1553.3 L613.3 1558.3 L620.0 1555.0" stroke="#8ca900" stroke-width="4"/>
<path d="M620.0 1555.0 L626.7 1551.7 L636.7 1555.0" stroke="#68a900" stroke-width="4"/>
<path d="M636.7 1555.0 L646.7 1558.3 L651.1 1556.7" stroke="#3ca40b" stroke-width="4"/>
<path d="M651.1 1556.7 L655.6 1555.0" stroke="#52a606" stroke-width="4"/>
<path d="M655.6 1555.0 L660.0 1553.3" stroke="#68a900" stroke-width="4"/>
<path d="M660.0 1553.3 L664.4 1551.1" stroke="#7aa900" stroke-width="4"/>
<path d="M664.4 1551.1 L668.9 1548.9" stroke="#8ca900" stroke-width="4"/>
<path d="M668.9 1548.9 L673.3 1546.7 L677.8 1545.0" stroke="#9fa900" stroke-width="4"/>
<path d="M677.8 1545.0 L682.2 1543.3" stroke="#8ca900" stroke-width="4"/>
<path d="M682.2 1543.3 L686.7 1541.7" stroke="#7aa900" stroke-width="4"/>
<path d="M686.7 1541.7 L701.7 1541.7" stroke="#68a900" stroke-width="4"/>
<path d="M436.7 1486.7 L453.3 1496.7" stroke="#c07000" stroke-width="4"/>
<path d="M453.3 1496.7 L463.3 1499.2" stroke="#bf7c00" stroke-width="4"/>
<path d="M463.3 1499.2 L473.3 1501.7" stroke="#be8800" stroke-width="4"/>
<path d="M473.3 1501.7 L481.7 1509.2" stroke="#ba9000" stroke-width="4"/>
<path d="M481.7 1509.2 L490.0 1516.7 L498.3 1515.0" stroke="#b79900" stroke-width="4"/>
<path d="M498.3 1515.0 L506.7 1513.3 L523.3 1508.3" stroke="#be8800" stroke-width="4"/>
<path d="M523.3 1508.3 L526.7 1511.3" stroke="#ba9000" stroke-width="4"/>
<path d="M526.7 1511.3 L530.0 1514.3" stroke="#b79900" stroke-width="4"/>
<path d="M530.0 1514.3 L533.3 1517.3" stroke="#b4a100" stroke-width="4"/>
<path d="M533.3 1517.3 L536.7 1520.3" stroke="#b1a900" stroke-width="4"/>
<path d="M536.7 1520.3 L540.0 1523.3" stroke="#9fa900" stroke-width="4"/>
<path d="M540.0 1523.3 L546.7 1527.2" stroke="#7aa900" stroke-width="4"/>
<path d="M546.7 1527.2 L553.3 1531.1" stroke="#68a900" stroke-width="4"/>
<path d="M553.3 1531.1 L560.0 1535.0" stroke="#52a606" stroke-width="4"/>
<path d="M560.0 1535.0 L580.0 1538.3" stroke="#3ca40b" stroke-width="4"/>
<path d="M580.0 1538.3 L600.0 1543.3 L616.7 1550.0" stroke="#25a111" stroke-width="4"/>
<path d="M616.7 1550.0 L630.0 1553.3 L646.7 1558.3" stroke="#3ca40b" stroke-width="4"/>
<path d="M701.7 1541.7 L706.7 1537.8" stroke="#7aa900" stroke-width="4"/>
<path d="M706.7 1537.8 L711.7 1533.9" stroke="#8ca900" stroke-width="4"/>
<path d="M711.7 1533.9 L716.7 1530.0" stroke="#9fa900" stroke-width="4"/>
<path d="M716.7 1530.0 L724.4 1525.6" stroke="#b4a100" stroke-width="4"/>
<path d="M724.4 1525.6 L732.2 1521.1" stroke="#b79900" stroke-width="4"/>
<path d="M732.2 1521.1 L740.0 1516.7" stroke="#ba9000" stroke-width="4"/>
<path d="M740.0 1516.7 L746.7 1510.8" stroke="#be8800" stroke-width="4"/>
<path d="M746.7 1510.8 L753.3 1505.0 L766.7 1501.7" stroke="#c07000" stroke-width="4"/>
<path d="M766.7 1501.7 L780.0 1498.3 L786.7 1492.5" stroke="#c15700" stroke-width="4"/>
<path d="M786.7 1492.5 L793.3 1486.7 L803.3 1481.7" stroke="#c53607" stroke-width="4"/>
<path d="M803.3 1481.7 L813.3 1476.7 L826.7 1473.3" stroke="#c9140f" stroke-width="4"/>
<path d="M826.7 1473.3 L840.0 1470.0" stroke="#c53607" stroke-width="4"/>
<path d="M840.0 1470.0 L845.6 1468.3" stroke="#c34704" stroke-width="4"/>
<path d="M845.6 1468.3 L851.1 1466.7" stroke="#c15700" stroke-width="4"/>
<path d="M851.1 1466.7 L856.7 1465.0" stroke="#c16400" stroke-width="4"/>
<path d="M856.7 1465.0 L860.0 1464.2" stroke="#bf7c00" stroke-width="4"/>
<path d="M860.0 1464.2 L863.3 1463.3" stroke="#ba9000" stroke-width="4"/>
<path d="M383.5 1426.5 L395.4 1435.0" stroke="#c9140f" stroke-width="4"/>
<path d="M395.4 1435.0 L402.2 1441.0" stroke="#c7250b" stroke-width="4"/>
<path d="M402.2 1441.0 L409.0 1447.0" stroke="#c34704" stroke-width="4"/>
<path d="M409.0 1447.0 L415.8 1452.1 L422.7 1457.2" stroke="#c15700" stroke-width="4"/>
<path d="M422.7 1457.2 L429.5 1461.4" stroke="#c16400" stroke-width="4"/>
<path d="M429.5 1461.4 L436.3 1465.7" stroke="#bf7c00" stroke-width="4"/>
<path d="M436.3 1465.7 L453.3 1475.9 L463.5 1480.0" stroke="#be8800" stroke-width="4"/>
<path d="M463.5 1480.0 L473.3 1486.7" stroke="#ba9000" stroke-width="4"/>
<path d="M473.3 1486.7 L490.0 1493.3 L498.3 1495.8 L506.7 1498.3" stroke="#b79900" stroke-width="4"/>
<path d="M506.7 1498.3 L523.3 1495.0" stroke="#ba9000" stroke-width="4"/>
<path d="M523.3 1495.0 L529.4 1494.4" stroke="#be8800" stroke-width="4"/>
<path d="M529.4 1494.4 L535.6 1493.9" stroke="#ba9000" stroke-width="4"/>
<path d="M535.6 1493.9 L541.7 1493.3" stroke="#b79900" stroke-width="4"/>
<path d="M541.7 1493.3 L545.4 1496.7" stroke="#b4a100" stroke-width="4"/>
<path d="M545.4 1496.7 L549.2 1500.0" stroke="#9fa900" stroke-width="4"/>
<path d="M549.2 1500.0 L552.9 1503.3" stroke="#8ca900" stroke-width="4"/>
<path d="M552.9 1503.3 L556.7 1506.7" stroke="#7aa900" stroke-width="4"/>
<path d="M556.7 1506.7 L573.3 1506.7" stroke="#68a900" stroke-width="4"/>
<path d="M573.3 1506.7 L593.3 1498.3" stroke="#7aa900" stroke-width="4"/>
<path d="M593.3 1498.3 L597.8 1503.3" stroke="#68a900" stroke-width="4"/>
<path d="M597.8 1503.3 L602.2 1508.3" stroke="#52a606" stroke-width="4"/>
<path d="M602.2 1508.3 L606.7 1513.3 L626.7 1516.7 L636.7 1520.8" stroke="#3ca40b" stroke-width="4"/>
<path d="M636.7 1520.8 L646.7 1525.0" stroke="#0f9e16" stroke-width="4"/>
<path d="M646.7 1525.0 L655.0 1530.8" stroke="#25a111" stroke-width="4"/>
<path d="M655.0 1530.8 L663.3 1536.7" stroke="#3ca40b" stroke-width="4"/>
<path d="M663.3 1536.7 L671.7 1537.5" stroke="#52a606" stroke-width="4"/>
<path d="M671.7 1537.5 L680.0 1538.3" stroke="#68a900" stroke-width="4"/>
<path d="M863.3 1456.7 L868.9 1461.1" stroke="#b79900" stroke-width="4"/>
<path d="M868.9 1461.1 L874.4 1465.6" stroke="#ba9000" stroke-width="4"/>
<path d="M874.4 1465.6 L880.0 1470.0" stroke="#be8800" stroke-width="4"/>
<path d="M880.0 1470.0 L884.4 1467.8" stroke="#bf7c00" stroke-width="4"/>
<path d="M884.4 1467.8 L888.9 1465.6" stroke="#c07000" stroke-width="4"/>
<path d="M888.9 1465.6 L893.3 1463.3" stroke="#c16400" stroke-width="4"/>
<path d="M893.3 1463.3 L913.3 1453.3" stroke="#c34704" stroke-width="4"/>
<path d="M913.3 1453.3 L933.3 1450.0 L951.7 1441.7" stroke="#c53607" stroke-width="4"/>
<path d="M346.0 1399.3 L356.2 1402.7 L385.2 1403.5" stroke="#c62221" stroke-width="4"/>
<path d="M385.2 1403.5 L398.8 1407.8 L409.0 1416.3" stroke="#c9140f" stroke-width="4"/>
<path d="M409.0 1416.3 L419.3 1424.8" stroke="#c7250b" stroke-width="4"/>
<path d="M419.3 1424.8 L432.9 1426.5" stroke="#c34704" stroke-width="4"/>
<path d="M432.9 1426.5 L441.4 1428.2" stroke="#c15700" stroke-width="4"/>
<path d="M441.4 1428.2 L445.7 1432.5" stroke="#c16400" stroke-width="4"/>
<path d="M445.7 1432.5 L449.9 1436.7 L455.0 1441.8" stroke="#c07000" stroke-width="4"/>
<path d="M455.0 1441.8 L460.1 1447.0 L464.1 1450.4" stroke="#be8800" stroke-width="4"/>
<path d="M464.1 1450.4 L468.1 1453.8" stroke="#ba9000" stroke-width="4"/>
<path d="M468.1 1453.8 L472.1 1457.2" stroke="#b79900" stroke-width="4"/>
<path d="M472.1 1457.2 L478.0 1461.4" stroke="#b4a100" stroke-width="4"/>
<path d="M478.0 1461.4 L484.0 1465.7" stroke="#b1a900" stroke-width="4"/>
<path d="M484.0 1465.7 L489.1 1469.1" stroke="#9fa900" stroke-width="4"/>
<path d="M489.1 1469.1 L494.2 1472.5" stroke="#8ca900" stroke-width="4"/>
<path d="M494.2 1472.5 L504.4 1479.3" stroke="#7aa900" stroke-width="4"/>
<path d="M504.4 1479.3 L520.0 1483.3" stroke="#68a900" stroke-width="4"/>
<path d="M520.0 1483.3 L540.0 1493.3 L550.0 1490.0" stroke="#52a606" stroke-width="4"/>
<path d="M550.0 1490.0 L560.0 1486.7" stroke="#3ca40b" stroke-width="4"/>
<path d="M560.0 1486.7 L580.0 1496.7" stroke="#25a111" stroke-width="4"/>
<path d="M580.0 1496.7 L600.0 1506.7" stroke="#0f9e16" stroke-width="4"/>
<path d="M600.0 1506.7 L620.0 1523.3" stroke="#0b9725" stroke-width="4"/>
<path d="M620.0 1523.3 L640.0 1526.7" stroke="#078f34" stroke-width="4"/>
<path d="M873.3 1450.0 L878.9 1447.2" stroke="#9fa900" stroke-width="4"/>
<path d="M878.9 1447.2 L884.4 1444.4" stroke="#b1a900" stroke-width="4"/>
<path d="M884.4 1444.4 L890.0 1441.7" stroke="#b4a100" stroke-width="4"/>
<path d="M890.0 1441.7 L895.3 1440.3" stroke="#b79900" stroke-width="4"/>
<path d="M895.3 1440.3 L900.7 1439.0" stroke="#ba9000" stroke-width="4"/>
<path d="M900.7 1439.0 L906.0 1437.7" stroke="#be8800" stroke-width="4"/>
<path d="M906.0 1437.7 L911.3 1436.3" stroke="#bf7c00" stroke-width="4"/>
<path d="M911.3 1436.3 L916.7 1435.0" stroke="#c16400" stroke-width="4"/>
<path d="M916.7 1435.0 L928.3 1432.5 L940.0 1430.0" stroke="#c15700" stroke-width="4"/>
<path d="M940.0 1430.0 L947.8 1426.7" stroke="#c34704" stroke-width="4"/>
<path d="M947.8 1426.7 L955.6 1423.3" stroke="#c53607" stroke-width="4"/>
<path d="M955.6 1423.3 L963.3 1420.0" stroke="#c7250b" stroke-width="4"/>
<path d="M963.3 1420.0 L986.7 1410.0 L1006.7 1405.0 L1023.3 1396.7" stroke="#c9140f" stroke-width="4"/>
<path d="M313.6 1375.4 L322.1 1372.0 L334.1 1372.8 L344.3 1375.4 L368.1 1375.4 L375.0 1372.0 L385.2 1372.0" stroke="#c42f32" stroke-width="4"/>
<path d="M385.2 1372.0 L395.4 1378.8" stroke="#c62221" stroke-width="4"/>
<path d="M395.4 1378.8 L405.6 1385.6" stroke="#c9140f" stroke-width="4"/>
<path d="M405.6 1385.6 L415.8 1392.4" stroke="#c7250b" stroke-width="4"/>
<path d="M415.8 1392.4 L426.1 1399.3" stroke="#c53607" stroke-width="4"/>
<path d="M426.1 1399.3 L436.3 1402.7" stroke="#c34704" stroke-width="4"/>
<path d="M436.3 1402.7 L442.2 1406.9" stroke="#c15700" stroke-width="4"/>
<path d="M442.2 1406.9 L448.2 1411.2" stroke="#c16400" stroke-width="4"/>
<path d="M448.2 1411.2 L452.5 1415.4 L456.7 1419.7" stroke="#c07000" stroke-width="4"/>
<path d="M456.7 1419.7 L461.8 1424.0" stroke="#bf7c00" stroke-width="4"/>
<path d="M461.8 1424.0 L467.0 1428.2" stroke="#be8800" stroke-width="4"/>
<path d="M467.0 1428.2 L472.1 1432.5" stroke="#ba9000" stroke-width="4"/>
<path d="M472.1 1432.5 L477.2 1436.7" stroke="#b79900" stroke-width="4"/>
<path d="M477.2 1436.7 L480.6 1439.0" stroke="#b4a100" stroke-width="4"/>
<path d="M480.6 1439.0 L484.0 1441.3" stroke="#b1a900" stroke-width="4"/>
<path d="M484.0 1441.3 L487.4 1443.5" stroke="#9fa900" stroke-width="4"/>
<path d="M487.4 1443.5 L492.5 1447.0" stroke="#7aa900" stroke-width="4"/>
<path d="M492.5 1447.0 L497.6 1450.4" stroke="#68a900" stroke-width="4"/>
<path d="M497.6 1450.4 L502.7 1454.6" stroke="#52a606" stroke-width="4"/>
<path d="M502.7 1454.6 L507.8 1458.9" stroke="#3ca40b" stroke-width="4"/>
<path d="M507.8 1458.9 L545.3 1459.7 L555.5 1464.0" stroke="#25a111" stroke-width="4"/>
<path d="M555.5 1464.0 L581.1 1464.0 L600.0 1469.1" stroke="#0f9e16" stroke-width="4"/>
<path d="M600.0 1469.1 L610.0 1486.7" stroke="#0b9725" stroke-width="4"/>
<path d="M610.0 1486.7 L615.6 1492.2" stroke="#048843" stroke-width="4"/>
<path d="M615.6 1492.2 L621.1 1497.8" stroke="#008052" stroke-width="4"/>
<path d="M621.1 1497.8 L626.7 1503.3" stroke="#00785d" stroke-width="4"/>
<path d="M626.7 1503.3 L636.7 1505.8" stroke="#007168" stroke-width="4"/>
<path d="M636.7 1505.8 L646.7 1508.3" stroke="#00617e" stroke-width="4"/>
<path d="M646.7 1508.3 L652.2 1512.2" stroke="#005988" stroke-width="4"/>
<path d="M652.2 1512.2 L657.8 1516.1" stroke="#005291" stroke-width="4"/>
<path d="M657.8 1516.1 L663.3 1520.0" stroke="#004a9a" stroke-width="4"/>
<path d="M663.3 1520.0 L671.7 1524.2" stroke="#0043a4" stroke-width="4"/>
<path d="M671.7 1524.2 L680.0 1528.3" stroke="#0036ad" stroke-width="4"/>
<path d="M680.0 1528.3 L700.0 1530.0 L710.0 1526.7" stroke="#0029b6" stroke-width="4"/>
<path d="M710.0 1526.7 L720.0 1523.3" stroke="#0036ad" stroke-width="4"/>
<path d="M916.7 1426.7 L940.0 1420.0 L963.3 1413.3 L980.0 1408.3" stroke="#c15700" stroke-width="4"/>
<path d="M980.0 1408.3 L986.7 1406.1" stroke="#c34704" stroke-width="4"/>
<path d="M986.7 1406.1 L993.3 1403.9" stroke="#c53607" stroke-width="4"/>
<path d="M993.3 1403.9 L1000.0 1401.7" stroke="#c7250b" stroke-width="4"/>
<path d="M1000.0 1401.7 L1023.3 1395.0" stroke="#c9140f" stroke-width="4"/>
<path d="M1023.3 1395.0 L1036.7 1378.3 L1053.3 1375.0 L1073.3 1371.7 L1086.7 1380.0 L1093.3 1385.0" stroke="#c62221" stroke-width="4"/>
<path d="M313.6 1350.7 L322.1 1355.0" stroke="#c42f32" stroke-width="4"/>
<path d="M322.1 1355.0 L330.7 1355.0 L340.9 1348.1" stroke="#c13d44" stroke-width="4"/>
<path d="M340.9 1348.1 L352.8 1343.9 L364.7 1338.8" stroke="#bf4a56" stroke-width="4"/>
<path d="M364.7 1338.8 L371.6 1343.0 L381.8 1345.6" stroke="#c13d44" stroke-width="4"/>
<path d="M381.8 1345.6 L395.4 1348.1" stroke="#c42f32" stroke-width="4"/>
<path d="M395.4 1348.1 L405.6 1351.6" stroke="#c62221" stroke-width="4"/>
<path d="M405.6 1351.6 L415.8 1356.7" stroke="#c9140f" stroke-width="4"/>
<path d="M415.8 1356.7 L422.7 1361.8 L432.9 1368.6" stroke="#c7250b" stroke-width="4"/>
<path d="M432.9 1368.6 L441.4 1377.1" stroke="#c34704" stroke-width="4"/>
<path d="M441.4 1377.1 L445.7 1378.8 L449.9 1380.5" stroke="#c15700" stroke-width="4"/>
<path d="M449.9 1380.5 L455.0 1383.1" stroke="#c16400" stroke-width="4"/>
<path d="M455.0 1383.1 L460.1 1385.6" stroke="#c07000" stroke-width="4"/>
<path d="M460.1 1385.6 L465.2 1389.9" stroke="#bf7c00" stroke-width="4"/>
<path d="M465.2 1389.9 L470.4 1394.1" stroke="#be8800" stroke-width="4"/>
<path d="M470.4 1394.1 L475.5 1396.7" stroke="#ba9000" stroke-width="4"/>
<path d="M475.5 1396.7 L480.6 1399.3" stroke="#b79900" stroke-width="4"/>
<path d="M480.6 1399.3 L484.0 1401.8" stroke="#b4a100" stroke-width="4"/>
<path d="M484.0 1401.8 L487.4 1404.4" stroke="#9fa900" stroke-width="4"/>
<path d="M487.4 1404.4 L495.9 1414.6" stroke="#7aa900" stroke-width="4"/>
<path d="M495.9 1414.6 L504.4 1423.1 L509.5 1424.8" stroke="#68a900" stroke-width="4"/>
<path d="M509.5 1424.8 L514.7 1426.5" stroke="#52a606" stroke-width="4"/>
<path d="M514.7 1426.5 L524.9 1429.9" stroke="#3ca40b" stroke-width="4"/>
<path d="M524.9 1429.9 L538.5 1438.4 L552.1 1445.2" stroke="#25a111" stroke-width="4"/>
<path d="M552.1 1445.2 L565.8 1452.1 L579.4 1455.5 L600.0 1455.5" stroke="#0f9e16" stroke-width="4"/>
<path d="M600.0 1455.5 L610.0 1458.3 L615.6 1460.0" stroke="#0b9725" stroke-width="4"/>
<path d="M615.6 1460.0 L621.1 1461.7" stroke="#078f34" stroke-width="4"/>
<path d="M621.1 1461.7 L626.7 1463.3" stroke="#048843" stroke-width="4"/>
<path d="M626.7 1463.3 L636.7 1468.3" stroke="#008052" stroke-width="4"/>
<path d="M636.7 1468.3 L646.7 1473.3" stroke="#007168" stroke-width="4"/>
<path d="M646.7 1473.3 L652.2 1477.8" stroke="#006973" stroke-width="4"/>
<path d="M652.2 1477.8 L657.8 1482.2" stroke="#00617e" stroke-width="4"/>
<path d="M657.8 1482.2 L663.3 1486.7" stroke="#005988" stroke-width="4"/>
<path d="M663.3 1486.7 L671.7 1492.5" stroke="#004a9a" stroke-width="4"/>
<path d="M671.7 1492.5 L680.0 1498.3" stroke="#0043a4" stroke-width="4"/>
<path d="M680.0 1498.3 L688.3 1504.2" stroke="#0036ad" stroke-width="4"/>
<path d="M688.3 1504.2 L696.7 1510.0" stroke="#0029b6" stroke-width="4"/>
<path d="M696.7 1510.0 L716.7 1515.0 L740.0 1510.0" stroke="#001cc0" stroke-width="4"/>
<path d="M740.0 1510.0 L744.4 1508.3" stroke="#0036ad" stroke-width="4"/>
<path d="M744.4 1508.3 L748.9 1506.7" stroke="#0043a4" stroke-width="4"/>
<path d="M748.9 1506.7 L753.3 1505.0" stroke="#004a9a" stroke-width="4"/>
<path d="M753.3 1505.0 L767.0 1500.0" stroke="#005291" stroke-width="4"/>
<path d="M890.0 1413.3 L898.3 1409.2" stroke="#be8800" stroke-width="4"/>
<path d="M898.3 1409.2 L906.7 1405.0" stroke="#bf7c00" stroke-width="4"/>
<path d="M906.7 1405.0 L915.0 1400.0" stroke="#c07000" stroke-width="4"/>
<path d="M915.0 1400.0 L923.3 1395.0" stroke="#c16400" stroke-width="4"/>
<path d="M923.3 1395.0 L940.0 1385.0" stroke="#c34704" stroke-width="4"/>
<path d="M940.0 1385.0 L956.7 1380.0" stroke="#c53607" stroke-width="4"/>
<path d="M956.7 1380.0 L980.0 1373.3 L1000.0 1366.7" stroke="#c7250b" stroke-width="4"/>
<path d="M1000.0 1366.7 L1020.0 1363.3 L1040.0 1358.3" stroke="#c9140f" stroke-width="4"/>
<path d="M1040.0 1358.3 L1060.0 1351.7 L1080.0 1355.0" stroke="#c62221" stroke-width="4"/>
<path d="M1080.0 1355.0 L1100.0 1346.7 L1130.0 1338.3" stroke="#c42f32" stroke-width="4"/>
<path d="M313.6 1331.1 L337.5 1329.4 L344.3 1327.7 L356.2 1331.1 L373.3 1331.1 L378.4 1335.4" stroke="#c62221" stroke-width="4"/>
<path d="M378.4 1335.4 L395.4 1334.5" stroke="#c9140f" stroke-width="4"/>
<path d="M395.4 1334.5 L402.2 1331.1 L410.7 1331.1" stroke="#c7250b" stroke-width="4"/>
<path d="M410.7 1331.1 L419.3 1332.8 L426.1 1336.2" stroke="#c53607" stroke-width="4"/>
<path d="M426.1 1336.2 L436.3 1339.6 L448.2 1343.0" stroke="#c34704" stroke-width="4"/>
<path d="M448.2 1343.0 L451.6 1345.6" stroke="#c15700" stroke-width="4"/>
<path d="M451.6 1345.6 L455.0 1348.1" stroke="#c16400" stroke-width="4"/>
<path d="M455.0 1348.1 L463.5 1355.0" stroke="#c07000" stroke-width="4"/>
<path d="M463.5 1355.0 L470.4 1361.8" stroke="#bf7c00" stroke-width="4"/>
<path d="M470.4 1361.8 L478.9 1368.6" stroke="#be8800" stroke-width="4"/>
<path d="M478.9 1368.6 L487.4 1373.7" stroke="#ba9000" stroke-width="4"/>
<path d="M487.4 1373.7 L491.7 1377.1 L495.9 1380.5" stroke="#b79900" stroke-width="4"/>
<path d="M495.9 1380.5 L506.1 1382.2 L518.1 1383.9" stroke="#b4a100" stroke-width="4"/>
<path d="M518.1 1383.9 L520.6 1385.6" stroke="#b1a900" stroke-width="4"/>
<path d="M520.6 1385.6 L523.2 1387.3" stroke="#8ca900" stroke-width="4"/>
<path d="M523.2 1387.3 L525.7 1389.9" stroke="#68a900" stroke-width="4"/>
<path d="M525.7 1389.9 L528.3 1392.4" stroke="#52a606" stroke-width="4"/>
<path d="M528.3 1392.4 L535.1 1402.7" stroke="#3ca40b" stroke-width="4"/>
<path d="M535.1 1402.7 L541.9 1411.2 L555.5 1411.2 L579.4 1411.2" stroke="#25a111" stroke-width="4"/>
<path d="M579.4 1411.2 L589.6 1421.4 L600.0 1426.5" stroke="#0f9e16" stroke-width="4"/>
<path d="M600.0 1426.5 L606.7 1426.7 L626.7 1433.3" stroke="#0b9725" stroke-width="4"/>
<path d="M626.7 1433.3 L630.8 1438.3" stroke="#048843" stroke-width="4"/>
<path d="M630.8 1438.3 L635.0 1443.3" stroke="#008052" stroke-width="4"/>
<path d="M635.0 1443.3 L639.2 1448.3" stroke="#00785d" stroke-width="4"/>
<path d="M639.2 1448.3 L643.3 1453.3" stroke="#007168" stroke-width="4"/>
<path d="M643.3 1453.3 L648.3 1455.8" stroke="#006973" stroke-width="4"/>
<path d="M648.3 1455.8 L653.3 1458.3" stroke="#00617e" stroke-width="4"/>
<path d="M653.3 1458.3 L660.0 1454.2" stroke="#005988" stroke-width="4"/>
<path d="M660.0 1454.2 L666.7 1450.0" stroke="#005291" stroke-width="4"/>
<path d="M666.7 1450.0 L671.7 1456.7" stroke="#004a9a" stroke-width="4"/>
<path d="M671.7 1456.7 L676.7 1463.3" stroke="#0043a4" stroke-width="4"/>
<path d="M676.7 1463.3 L681.7 1469.2" stroke="#0036ad" stroke-width="4"/>
<path d="M681.7 1469.2 L686.7 1475.0 L703.3 1483.3" stroke="#0029b6" stroke-width="4"/>
<path d="M703.3 1483.3 L720.0 1493.3 L740.0 1501.7 L756.7 1491.7" stroke="#001cc0" stroke-width="4"/>
<path d="M756.7 1491.7 L761.8 1488.3" stroke="#0029b6" stroke-width="4"/>
<path d="M761.8 1488.3 L767.0 1485.0" stroke="#0036ad" stroke-width="4"/>
<path d="M1026.7 1301.7 L1033.3 1320.0" stroke="#c9140f" stroke-width="4"/>
<path d="M1033.3 1320.0 L1041.7 1333.3 L1060.0 1328.3" stroke="#c62221" stroke-width="4"/>
<path d="M1060.0 1328.3 L1080.0 1323.3 L1093.3 1311.7 L1110.0 1318.3 L1130.0 1318.3 L1146.7 1316.7 L1163.3 1315.0" stroke="#c42f32" stroke-width="4"/>
<path d="M313.6 1311.5 L322.1 1315.8" stroke="#c7250b" stroke-width="4"/>
<path d="M322.1 1315.8 L330.7 1320.0 L339.2 1316.6 L346.0 1311.5 L356.2 1314.9 L381.8 1315.8 L384.3 1317.5" stroke="#c9140f" stroke-width="4"/>
<path d="M384.3 1317.5 L386.9 1319.2 L392.0 1324.3 L398.8 1327.7 L402.2 1331.1" stroke="#c53607" stroke-width="4"/>
<path d="M402.2 1331.1 L422.7 1336.2 L429.5 1339.6 L439.7 1339.6" stroke="#c34704" stroke-width="4"/>
<path d="M439.7 1339.6 L446.5 1339.6" stroke="#c15700" stroke-width="4"/>
<path d="M446.5 1339.6 L453.3 1339.6" stroke="#c16400" stroke-width="4"/>
<path d="M453.3 1339.6 L458.4 1344.7 L462.7 1348.1" stroke="#bf7c00" stroke-width="4"/>
<path d="M462.7 1348.1 L467.0 1351.6" stroke="#be8800" stroke-width="4"/>
<path d="M467.0 1351.6 L475.5 1355.0" stroke="#ba9000" stroke-width="4"/>
<path d="M475.5 1355.0 L484.0 1358.4" stroke="#b79900" stroke-width="4"/>
<path d="M484.0 1358.4 L507.8 1359.2 L512.9 1362.2" stroke="#b4a100" stroke-width="4"/>
<path d="M512.9 1362.2 L518.1 1365.2" stroke="#b1a900" stroke-width="4"/>
<path d="M518.1 1365.2 L522.3 1366.9" stroke="#9fa900" stroke-width="4"/>
<path d="M522.3 1366.9 L526.6 1368.6" stroke="#8ca900" stroke-width="4"/>
<path d="M526.6 1368.6 L535.1 1375.4 L560.6 1375.4" stroke="#7aa900" stroke-width="4"/>
<path d="M560.6 1375.4 L564.9 1378.8" stroke="#68a900" stroke-width="4"/>
<path d="M564.9 1378.8 L569.2 1382.2 L574.3 1384.8" stroke="#52a606" stroke-width="4"/>
<path d="M574.3 1384.8 L579.4 1387.3" stroke="#3ca40b" stroke-width="4"/>
<path d="M579.4 1387.3 L600.0 1389.0" stroke="#25a111" stroke-width="4"/>
<path d="M600.0 1389.0 L620.0 1393.3" stroke="#0f9e16" stroke-width="4"/>
<path d="M620.0 1393.3 L646.7 1405.0" stroke="#0b9725" stroke-width="4"/>
<path d="M646.7 1405.0 L663.3 1413.3 L671.7 1416.7" stroke="#078f34" stroke-width="4"/>
<path d="M671.7 1416.7 L680.0 1420.0 L686.7 1423.3" stroke="#008052" stroke-width="4"/>
<path d="M686.7 1423.3 L693.3 1426.7" stroke="#00785d" stroke-width="4"/>
<path d="M693.3 1426.7 L700.0 1430.0" stroke="#007168" stroke-width="4"/>
<path d="M700.0 1430.0 L726.7 1430.0 L746.7 1428.3 L767.0 1426.7" stroke="#006973" stroke-width="4"/>
<path d="M767.0 1426.7 L786.7 1428.3" stroke="#007168" stroke-width="4"/>
<path d="M786.7 1428.3 L806.7 1428.3 L820.0 1410.0" stroke="#00785d" stroke-width="4"/>
<path d="M820.0 1410.0 L846.7 1408.3" stroke="#048843" stroke-width="4"/>
<path d="M846.7 1408.3 L858.3 1406.7 L870.0 1405.0" stroke="#078f34" stroke-width="4"/>
<path d="M870.0 1405.0 L890.0 1396.7" stroke="#0b9725" stroke-width="4"/>
<path d="M890.0 1396.7 L901.7 1391.7" stroke="#25a111" stroke-width="4"/>
<path d="M901.7 1391.7 L913.3 1386.7" stroke="#3ca40b" stroke-width="4"/>
<path d="M913.3 1386.7 L923.3 1380.0" stroke="#52a606" stroke-width="4"/>
<path d="M923.3 1380.0 L933.3 1373.3" stroke="#68a900" stroke-width="4"/>
<path d="M933.3 1373.3 L937.8 1367.8" stroke="#7aa900" stroke-width="4"/>
<path d="M937.8 1367.8 L942.2 1362.2" stroke="#8ca900" stroke-width="4"/>
<path d="M942.2 1362.2 L946.7 1356.7" stroke="#9fa900" stroke-width="4"/>
<path d="M1046.7 1306.7 L1066.7 1301.7" stroke="#c9140f" stroke-width="4"/>
<path d="M1066.7 1301.7 L1086.7 1300.0" stroke="#c62221" stroke-width="4"/>
<path d="M1086.7 1300.0 L1106.7 1296.7 L1126.7 1293.3 L1146.7 1296.7 L1166.7 1300.0 L1183.3 1303.3" stroke="#c42f32" stroke-width="4"/>
<path d="M1183.3 1303.3 L1200.0 1298.3" stroke="#c62221" stroke-width="4"/>
<path d="M329.8 1297.0 L340.9 1299.6 L356.2 1297.0" stroke="#c53607" stroke-width="4"/>
<path d="M356.2 1297.0 L368.1 1297.9 L375.0 1303.0 L385.2 1303.9 L393.7 1307.3" stroke="#c34704" stroke-width="4"/>
<path d="M393.7 1307.3 L419.3 1307.3" stroke="#c15700" stroke-width="4"/>
<path d="M419.3 1307.3 L421.8 1309.8" stroke="#c16400" stroke-width="4"/>
<path d="M421.8 1309.8 L424.4 1312.4" stroke="#c07000" stroke-width="4"/>
<path d="M424.4 1312.4 L431.2 1317.5" stroke="#bf7c00" stroke-width="4"/>
<path d="M431.2 1317.5 L438.0 1322.6 L446.5 1319.2" stroke="#be8800" stroke-width="4"/>
<path d="M446.5 1319.2 L455.0 1320.0" stroke="#ba9000" stroke-width="4"/>
<path d="M455.0 1320.0 L461.8 1326.0 L470.4 1331.1 L480.6 1337.9" stroke="#b79900" stroke-width="4"/>
<path d="M480.6 1337.9 L485.7 1339.6 L504.4 1339.6" stroke="#b4a100" stroke-width="4"/>
<path d="M504.4 1339.6 L507.8 1342.2 L511.2 1344.7" stroke="#b1a900" stroke-width="4"/>
<path d="M511.2 1344.7 L516.4 1348.1" stroke="#9fa900" stroke-width="4"/>
<path d="M516.4 1348.1 L521.5 1351.6" stroke="#8ca900" stroke-width="4"/>
<path d="M521.5 1351.6 L530.0 1351.1" stroke="#7aa900" stroke-width="4"/>
<path d="M530.0 1351.1 L538.5 1350.7" stroke="#68a900" stroke-width="4"/>
<path d="M538.5 1350.7 L545.3 1355.0 L555.5 1360.1" stroke="#52a606" stroke-width="4"/>
<path d="M555.5 1360.1 L565.8 1358.4 L576.0 1360.1 L586.2 1365.2" stroke="#3ca40b" stroke-width="4"/>
<path d="M586.2 1365.2 L600.0 1370.3 L623.3 1366.7 L646.7 1363.3 L670.0 1368.3 L693.3 1366.7 L713.3 1373.3 L736.7 1380.0 L756.7 1371.7 L773.3 1380.0 L796.7 1375.0" stroke="#25a111" stroke-width="4"/>
<path d="M796.7 1375.0 L823.3 1370.0" stroke="#3ca40b" stroke-width="4"/>
<path d="M823.3 1370.0 L846.7 1360.0" stroke="#52a606" stroke-width="4"/>
<path d="M846.7 1360.0 L873.3 1358.3" stroke="#68a900" stroke-width="4"/>
<path d="M873.3 1358.3 L900.0 1356.7" stroke="#7aa900" stroke-width="4"/>
<path d="M900.0 1356.7 L910.0 1351.7" stroke="#8ca900" stroke-width="4"/>
<path d="M910.0 1351.7 L920.0 1346.7 L930.0 1341.7" stroke="#9fa900" stroke-width="4"/>
<path d="M930.0 1341.7 L940.0 1336.7" stroke="#b1a900" stroke-width="4"/>
<path d="M940.0 1336.7 L948.3 1332.5" stroke="#b4a100" stroke-width="4"/>
<path d="M948.3 1332.5 L956.7 1328.3" stroke="#b79900" stroke-width="4"/>
<path d="M956.7 1328.3 L965.0 1325.8" stroke="#ba9000" stroke-width="4"/>
<path d="M965.0 1325.8 L973.3 1323.3" stroke="#be8800" stroke-width="4"/>
<path d="M1046.7 1293.3 L1080.0 1286.7 L1113.3 1280.0 L1140.0 1283.3 L1166.7 1285.0 L1193.3 1288.3 L1216.7 1290.0" stroke="#c9140f" stroke-width="4"/>
<path d="M346.0 1282.6 L363.9 1282.6" stroke="#c16400" stroke-width="4"/>
<path d="M363.9 1282.6 L381.8 1282.6" stroke="#c07000" stroke-width="4"/>
<path d="M381.8 1282.6 L388.6 1286.8 L395.4 1291.9" stroke="#bf7c00" stroke-width="4"/>
<path d="M395.4 1291.9 L419.3 1291.9 L424.4 1297.0" stroke="#be8800" stroke-width="4"/>
<path d="M424.4 1297.0 L432.9 1302.1 L441.4 1298.7" stroke="#ba9000" stroke-width="4"/>
<path d="M441.4 1298.7 L453.3 1298.7 L460.1 1303.9" stroke="#b79900" stroke-width="4"/>
<path d="M460.1 1303.9 L468.7 1310.7 L480.6 1311.5" stroke="#b4a100" stroke-width="4"/>
<path d="M480.6 1311.5 L497.6 1315.8" stroke="#b1a900" stroke-width="4"/>
<path d="M497.6 1315.8 L504.4 1312.4 L512.9 1319.2" stroke="#9fa900" stroke-width="4"/>
<path d="M512.9 1319.2 L521.5 1322.6 L528.3 1327.7" stroke="#8ca900" stroke-width="4"/>
<path d="M528.3 1327.7 L538.5 1329.4 L548.7 1331.1" stroke="#7aa900" stroke-width="4"/>
<path d="M548.7 1331.1 L562.4 1332.8" stroke="#68a900" stroke-width="4"/>
<path d="M562.4 1332.8 L572.6 1337.9 L589.6 1339.6 L600.0 1339.6 L613.3 1345.0 L630.0 1335.0" stroke="#52a606" stroke-width="4"/>
<path d="M630.0 1335.0 L646.7 1333.3 L666.7 1325.0 L686.7 1338.3 L706.7 1335.0 L726.7 1335.0 L753.3 1326.7 L773.3 1338.3 L793.3 1333.3" stroke="#68a900" stroke-width="4"/>
<path d="M793.3 1333.3 L820.0 1333.3 L843.3 1325.0 L863.3 1325.0 L880.0 1331.7" stroke="#7aa900" stroke-width="4"/>
<path d="M880.0 1331.7 L900.0 1325.0 L916.7 1326.7" stroke="#8ca900" stroke-width="4"/>
<path d="M916.7 1326.7 L923.3 1323.3" stroke="#9fa900" stroke-width="4"/>
<path d="M923.3 1323.3 L930.0 1320.0" stroke="#b1a900" stroke-width="4"/>
<path d="M930.0 1320.0 L936.7 1316.7" stroke="#b4a100" stroke-width="4"/>
<path d="M936.7 1316.7 L953.3 1310.0" stroke="#b79900" stroke-width="4"/>
<path d="M953.3 1310.0 L963.3 1308.3" stroke="#ba9000" stroke-width="4"/>
<path d="M963.3 1308.3 L973.3 1306.7" stroke="#be8800" stroke-width="4"/>
<path d="M973.3 1306.7 L986.7 1298.3" stroke="#bf7c00" stroke-width="4"/>
<path d="M986.7 1298.3 L1000.0 1298.3" stroke="#c07000" stroke-width="4"/>
<path d="M1026.7 1296.7 L1053.3 1280.0" stroke="#c15700" stroke-width="4"/>
<path d="M1053.3 1280.0 L1080.0 1270.0" stroke="#c34704" stroke-width="4"/>
<path d="M1080.0 1270.0 L1100.0 1268.3 L1120.0 1266.7" stroke="#c53607" stroke-width="4"/>
<path d="M1120.0 1266.7 L1146.7 1271.7 L1166.7 1273.3" stroke="#c34704" stroke-width="4"/>
<path d="M1166.7 1273.3 L1186.7 1276.7 L1213.3 1281.7 L1235.0 1280.0" stroke="#c15700" stroke-width="4"/>
<path d="M365.0 1266.7 L375.8 1267.5" stroke="#bf7c00" stroke-width="4"/>
<path d="M375.8 1267.5 L386.7 1268.3" stroke="#be8800" stroke-width="4"/>
<path d="M386.7 1268.3 L396.7 1270.8" stroke="#ba9000" stroke-width="4"/>
<path d="M396.7 1270.8 L406.7 1273.3 L410.7 1280.0" stroke="#b79900" stroke-width="4"/>
<path d="M410.7 1280.0 L419.3 1282.6" stroke="#b4a100" stroke-width="4"/>
<path d="M419.3 1282.6 L444.8 1283.4 L453.3 1288.5 L461.8 1291.9" stroke="#b1a900" stroke-width="4"/>
<path d="M461.8 1291.9 L470.4 1295.3 L480.6 1291.9 L492.5 1292.8" stroke="#9fa900" stroke-width="4"/>
<path d="M492.5 1292.8 L504.4 1296.2 L512.9 1299.6" stroke="#8ca900" stroke-width="4"/>
<path d="M512.9 1299.6 L526.6 1300.4" stroke="#7aa900" stroke-width="4"/>
<path d="M526.6 1300.4 L538.5 1297.0" stroke="#68a900" stroke-width="4"/>
<path d="M538.5 1297.0 L545.3 1300.4 L555.5 1307.3 L572.6 1311.5 L589.6 1315.8" stroke="#52a606" stroke-width="4"/>
<path d="M589.6 1315.8 L600.0 1315.8" stroke="#3ca40b" stroke-width="4"/>
<path d="M600.0 1315.8 L606.7 1314.6" stroke="#52a606" stroke-width="4"/>
<path d="M606.7 1314.6 L613.3 1313.3" stroke="#68a900" stroke-width="4"/>
<path d="M613.3 1313.3 L620.0 1306.7" stroke="#7aa900" stroke-width="4"/>
<path d="M620.0 1306.7 L626.7 1300.0" stroke="#8ca900" stroke-width="4"/>
<path d="M626.7 1300.0 L633.3 1295.8" stroke="#9fa900" stroke-width="4"/>
<path d="M633.3 1295.8 L640.0 1291.7 L648.3 1289.2" stroke="#b1a900" stroke-width="4"/>
<path d="M648.3 1289.2 L656.7 1286.7" stroke="#b4a100" stroke-width="4"/>
<path d="M656.7 1286.7 L665.0 1285.0" stroke="#b79900" stroke-width="4"/>
<path d="M665.0 1285.0 L673.3 1283.3" stroke="#ba9000" stroke-width="4"/>
<path d="M673.3 1283.3 L683.3 1280.0 L700.0 1286.7" stroke="#be8800" stroke-width="4"/>
<path d="M700.0 1286.7 L716.7 1291.7 L740.0 1288.3" stroke="#ba9000" stroke-width="4"/>
<path d="M740.0 1288.3 L753.3 1290.0 L773.3 1293.3" stroke="#b79900" stroke-width="4"/>
<path d="M773.3 1293.3 L793.3 1285.0 L813.3 1290.0 L833.3 1293.3" stroke="#b4a100" stroke-width="4"/>
<path d="M833.3 1293.3 L846.7 1298.3 L866.7 1295.0 L883.3 1298.3" stroke="#b79900" stroke-width="4"/>
<path d="M883.3 1298.3 L900.0 1293.3 L920.0 1288.3 L940.0 1286.7" stroke="#ba9000" stroke-width="4"/>
<path d="M940.0 1286.7 L956.7 1281.7 L973.3 1271.7" stroke="#be8800" stroke-width="4"/>
<path d="M973.3 1271.7 L1000.0 1273.3" stroke="#bf7c00" stroke-width="4"/>
<path d="M1000.0 1273.3 L1023.3 1276.7 L1040.0 1273.3" stroke="#c07000" stroke-width="4"/>
<path d="M1040.0 1273.3 L1053.3 1280.0" stroke="#c16400" stroke-width="4"/>
<path d="M1053.3 1280.0 L1073.3 1278.3" stroke="#c15700" stroke-width="4"/>
<path d="M1106.7 1261.7 L1110.0 1261.0" stroke="#c16400" stroke-width="4"/>
<path d="M1110.0 1261.0 L1113.3 1260.3" stroke="#c07000" stroke-width="4"/>
<path d="M1113.3 1260.3 L1116.7 1259.7" stroke="#bf7c00" stroke-width="4"/>
<path d="M1116.7 1259.7 L1120.0 1259.0" stroke="#be8800" stroke-width="4"/>
<path d="M1120.0 1259.0 L1123.3 1258.3" stroke="#ba9000" stroke-width="4"/>
<path d="M1123.3 1258.3 L1126.7 1260.0" stroke="#b4a100" stroke-width="4"/>
<path d="M1126.7 1260.0 L1130.0 1261.7" stroke="#b1a900" stroke-width="4"/>
<path d="M1130.0 1261.7 L1133.3 1263.3" stroke="#9fa900" stroke-width="4"/>
<path d="M1133.3 1263.3 L1136.7 1265.0" stroke="#8ca900" stroke-width="4"/>
<path d="M1136.7 1265.0 L1140.0 1266.7" stroke="#7aa900" stroke-width="4"/>
<path d="M1140.0 1266.7 L1143.3 1266.2" stroke="#8ca900" stroke-width="4"/>
<path d="M1143.3 1266.2 L1146.7 1265.8" stroke="#b1a900" stroke-width="4"/>
<path d="M1146.7 1265.8 L1150.0 1265.4" stroke="#be8800" stroke-width="4"/>
<path d="M1150.0 1265.4 L1153.3 1265.0" stroke="#c07000" stroke-width="4"/>
<path d="M1153.3 1265.0 L1163.3 1265.8" stroke="#c15700" stroke-width="4"/>
<path d="M1163.3 1265.8 L1173.3 1266.7" stroke="#c16400" stroke-width="4"/>
<path d="M1173.3 1266.7 L1185.0 1264.2" stroke="#c07000" stroke-width="4"/>
<path d="M1185.0 1264.2 L1196.7 1261.7" stroke="#bf7c00" stroke-width="4"/>
<path d="M1196.7 1261.7 L1201.1 1263.3" stroke="#ba9000" stroke-width="4"/>
<path d="M1201.1 1263.3 L1205.6 1265.0" stroke="#b79900" stroke-width="4"/>
<path d="M1205.6 1265.0 L1210.0 1266.7 L1220.0 1275.0" stroke="#b4a100" stroke-width="4"/>
<path d="M1220.0 1275.0 L1236.7 1270.0 L1253.3 1271.7" stroke="#b1a900" stroke-width="4"/>
<path d="M401.7 1248.3 L416.7 1255.0 L436.7 1255.0 L456.7 1255.0" stroke="#b4a100" stroke-width="4"/>
<path d="M456.7 1255.0 L473.3 1263.3 L490.0 1271.7 L506.7 1270.0" stroke="#b1a900" stroke-width="4"/>
<path d="M506.7 1270.0 L523.3 1269.2" stroke="#9fa900" stroke-width="4"/>
<path d="M523.3 1269.2 L540.0 1268.3" stroke="#8ca900" stroke-width="4"/>
<path d="M540.0 1268.3 L556.7 1276.7 L576.7 1280.0" stroke="#7aa900" stroke-width="4"/>
<path d="M576.7 1280.0 L596.7 1273.3" stroke="#8ca900" stroke-width="4"/>
<path d="M596.7 1273.3 L613.3 1281.7 L630.0 1273.3" stroke="#9fa900" stroke-width="4"/>
<path d="M630.0 1273.3 L650.0 1271.7 L663.3 1256.7 L673.3 1253.3 L685.0 1255.8" stroke="#b1a900" stroke-width="4"/>
<path d="M685.0 1255.8 L696.7 1258.3" stroke="#9fa900" stroke-width="4"/>
<path d="M696.7 1258.3 L716.7 1255.0" stroke="#8ca900" stroke-width="4"/>
<path d="M716.7 1255.0 L730.0 1266.7" stroke="#7aa900" stroke-width="4"/>
<path d="M730.0 1266.7 L734.4 1271.1" stroke="#52a606" stroke-width="4"/>
<path d="M734.4 1271.1 L738.9 1275.6" stroke="#3ca40b" stroke-width="4"/>
<path d="M738.9 1275.6 L743.3 1280.0" stroke="#25a111" stroke-width="4"/>
<path d="M743.3 1280.0 L756.7 1290.0" stroke="#0f9e16" stroke-width="4"/>
<path d="M806.7 1273.3 L813.3 1270.0" stroke="#3ca40b" stroke-width="4"/>
<path d="M813.3 1270.0 L820.0 1266.7" stroke="#52a606" stroke-width="4"/>
<path d="M820.0 1266.7 L826.7 1261.7" stroke="#68a900" stroke-width="4"/>
<path d="M826.7 1261.7 L833.3 1256.7" stroke="#7aa900" stroke-width="4"/>
<path d="M833.3 1256.7 L840.0 1253.3" stroke="#8ca900" stroke-width="4"/>
<path d="M840.0 1253.3 L846.7 1250.0" stroke="#9fa900" stroke-width="4"/>
<path d="M846.7 1250.0 L855.0 1257.5" stroke="#b4a100" stroke-width="4"/>
<path d="M855.0 1257.5 L863.3 1265.0" stroke="#b79900" stroke-width="4"/>
<path d="M863.3 1265.0 L871.7 1260.8" stroke="#ba9000" stroke-width="4"/>
<path d="M871.7 1260.8 L880.0 1256.7 L900.0 1250.0" stroke="#be8800" stroke-width="4"/>
<path d="M900.0 1250.0 L916.7 1245.0 L936.7 1243.3" stroke="#ba9000" stroke-width="4"/>
<path d="M936.7 1243.3 L956.7 1245.0 L973.3 1243.3" stroke="#b79900" stroke-width="4"/>
<path d="M973.3 1243.3 L990.0 1255.0 L1003.3 1263.3 L1023.3 1256.7" stroke="#b4a100" stroke-width="4"/>
<path d="M1023.3 1256.7 L1040.0 1263.3" stroke="#b79900" stroke-width="4"/>
<path d="M1040.0 1263.3 L1063.3 1263.3" stroke="#ba9000" stroke-width="4"/>
<path d="M1063.3 1263.3 L1086.7 1261.7 L1106.7 1260.0" stroke="#be8800" stroke-width="4"/>
<path d="M436.7 1233.3 L456.7 1236.7 L475.0 1231.7" stroke="#b4a100" stroke-width="4"/>
<path d="M475.0 1231.7 L486.7 1241.7 L513.3 1241.7 L530.0 1243.3" stroke="#b1a900" stroke-width="4"/>
<path d="M530.0 1243.3 L543.3 1246.7" stroke="#9fa900" stroke-width="4"/>
<path d="M543.3 1246.7 L560.0 1253.3 L566.7 1248.3 L573.3 1243.3" stroke="#8ca900" stroke-width="4"/>
<path d="M573.3 1243.3 L583.3 1241.7" stroke="#9fa900" stroke-width="4"/>
<path d="M583.3 1241.7 L593.3 1240.0" stroke="#b1a900" stroke-width="4"/>
<path d="M593.3 1240.0 L613.3 1245.0" stroke="#b4a100" stroke-width="4"/>
<path d="M613.3 1245.0 L630.0 1238.3" stroke="#b79900" stroke-width="4"/>
<path d="M630.0 1238.3 L646.7 1226.7" stroke="#ba9000" stroke-width="4"/>
<path d="M646.7 1226.7 L666.7 1221.7" stroke="#bf7c00" stroke-width="4"/>
<path d="M666.7 1221.7 L683.3 1215.0" stroke="#c07000" stroke-width="4"/>
<path d="M683.3 1215.0 L700.0 1215.0 L708.3 1209.2" stroke="#c16400" stroke-width="4"/>
<path d="M708.3 1209.2 L716.7 1203.3" stroke="#bf7c00" stroke-width="4"/>
<path d="M716.7 1203.3 L721.7 1208.3 L726.7 1213.3" stroke="#be8800" stroke-width="4"/>
<path d="M726.7 1213.3 L733.3 1221.7" stroke="#ba9000" stroke-width="4"/>
<path d="M733.3 1221.7 L740.0 1230.0" stroke="#b4a100" stroke-width="4"/>
<path d="M740.0 1230.0 L746.7 1238.3" stroke="#b1a900" stroke-width="4"/>
<path d="M746.7 1238.3 L753.3 1246.7" stroke="#9fa900" stroke-width="4"/>
<path d="M753.3 1246.7 L760.0 1247.5" stroke="#8ca900" stroke-width="4"/>
<path d="M760.0 1247.5 L766.7 1248.3" stroke="#7aa900" stroke-width="4"/>
<path d="M766.7 1248.3 L773.3 1245.8" stroke="#68a900" stroke-width="4"/>
<path d="M773.3 1245.8 L780.0 1243.3" stroke="#52a606" stroke-width="4"/>
<path d="M780.0 1243.3 L785.0 1242.5 L790.0 1241.7" stroke="#3ca40b" stroke-width="4"/>
<path d="M790.0 1241.7 L796.7 1256.7 L806.7 1273.3" stroke="#25a111" stroke-width="4"/>
<path d="M806.7 1273.3 L810.8 1269.2" stroke="#52a606" stroke-width="4"/>
<path d="M810.8 1269.2 L815.0 1265.0" stroke="#68a900" stroke-width="4"/>
<path d="M815.0 1265.0 L819.2 1260.8" stroke="#7aa900" stroke-width="4"/>
<path d="M819.2 1260.8 L823.3 1256.7" stroke="#8ca900" stroke-width="4"/>
<path d="M823.3 1256.7 L826.7 1251.7" stroke="#b1a900" stroke-width="4"/>
<path d="M826.7 1251.7 L830.0 1246.7" stroke="#b4a100" stroke-width="4"/>
<path d="M830.0 1246.7 L833.3 1241.7" stroke="#b79900" stroke-width="4"/>
<path d="M833.3 1241.7 L836.7 1236.7" stroke="#ba9000" stroke-width="4"/>
<path d="M836.7 1236.7 L843.3 1228.3" stroke="#be8800" stroke-width="4"/>
<path d="M843.3 1228.3 L850.0 1220.0" stroke="#bf7c00" stroke-width="4"/>
<path d="M850.0 1220.0 L863.3 1215.0 L880.0 1223.3" stroke="#c16400" stroke-width="4"/>
<path d="M880.0 1223.3 L896.7 1206.7 L913.3 1210.0 L923.3 1210.8" stroke="#c15700" stroke-width="4"/>
<path d="M923.3 1210.8 L933.3 1211.7" stroke="#c16400" stroke-width="4"/>
<path d="M933.3 1211.7 L943.3 1210.0" stroke="#c07000" stroke-width="4"/>
<path d="M943.3 1210.0 L953.3 1208.3" stroke="#bf7c00" stroke-width="4"/>
<path d="M953.3 1208.3 L961.7 1207.5" stroke="#be8800" stroke-width="4"/>
<path d="M961.7 1207.5 L970.0 1206.7" stroke="#ba9000" stroke-width="4"/>
<path d="M970.0 1206.7 L975.0 1213.3 L980.0 1220.0" stroke="#b79900" stroke-width="4"/>
<path d="M980.0 1220.0 L996.7 1226.7 L1013.3 1228.3 L1033.3 1233.3 L1053.3 1230.0" stroke="#b4a100" stroke-width="4"/>
<path d="M1053.3 1230.0 L1066.7 1243.3 L1086.7 1250.0 L1103.3 1258.3" stroke="#b1a900" stroke-width="4"/>
<path d="M490.0 1223.3 L506.7 1226.7" stroke="#8ca900" stroke-width="4"/>
<path d="M506.7 1226.7 L523.3 1228.3" stroke="#9fa900" stroke-width="4"/>
<path d="M523.3 1228.3 L533.3 1220.0 L545.0 1211.7" stroke="#b1a900" stroke-width="4"/>
<path d="M545.0 1211.7 L563.3 1216.7" stroke="#b4a100" stroke-width="4"/>
<path d="M563.3 1216.7 L578.3 1226.7 L593.3 1215.0" stroke="#b79900" stroke-width="4"/>
<path d="M593.3 1215.0 L613.3 1213.3 L630.0 1216.7" stroke="#ba9000" stroke-width="4"/>
<path d="M630.0 1216.7 L646.7 1206.7" stroke="#be8800" stroke-width="4"/>
<path d="M646.7 1206.7 L666.7 1205.0" stroke="#bf7c00" stroke-width="4"/>
<path d="M666.7 1205.0 L683.3 1196.7" stroke="#c07000" stroke-width="4"/>
<path d="M683.3 1196.7 L700.0 1191.7" stroke="#c16400" stroke-width="4"/>
<path d="M700.0 1191.7 L708.3 1185.8 L716.7 1180.0" stroke="#c15700" stroke-width="4"/>
<path d="M716.7 1180.0 L733.3 1173.3" stroke="#c34704" stroke-width="4"/>
<path d="M733.3 1173.3 L746.7 1168.3" stroke="#c53607" stroke-width="4"/>
<path d="M746.7 1168.3 L767.0 1165.0 L773.3 1161.7 L786.7 1168.3 L806.7 1170.0 L826.7 1171.7" stroke="#c7250b" stroke-width="4"/>
<path d="M826.7 1171.7 L846.7 1170.0 L855.0 1175.8" stroke="#c53607" stroke-width="4"/>
<path d="M855.0 1175.8 L863.3 1181.7" stroke="#c34704" stroke-width="4"/>
<path d="M863.3 1181.7 L875.0 1182.5" stroke="#c15700" stroke-width="4"/>
<path d="M875.0 1182.5 L886.7 1183.3" stroke="#c16400" stroke-width="4"/>
<path d="M886.7 1183.3 L896.7 1184.2" stroke="#c07000" stroke-width="4"/>
<path d="M896.7 1184.2 L906.7 1185.0" stroke="#bf7c00" stroke-width="4"/>
<path d="M906.7 1185.0 L916.7 1187.5" stroke="#be8800" stroke-width="4"/>
<path d="M916.7 1187.5 L926.7 1190.0" stroke="#ba9000" stroke-width="4"/>
<path d="M926.7 1190.0 L935.0 1190.8 L943.3 1191.7" stroke="#b79900" stroke-width="4"/>
<path d="M943.3 1191.7 L960.0 1195.0" stroke="#b4a100" stroke-width="4"/>
<path d="M960.0 1195.0 L970.0 1197.5" stroke="#b1a900" stroke-width="4"/>
<path d="M970.0 1197.5 L980.0 1200.0" stroke="#9fa900" stroke-width="4"/>
<path d="M980.0 1200.0 L996.7 1206.7" stroke="#8ca900" stroke-width="4"/>
<path d="M996.7 1206.7 L1016.7 1213.3" stroke="#7aa900" stroke-width="4"/>
<path d="M1016.7 1213.3 L1040.0 1223.3" stroke="#68a900" stroke-width="4"/>
<path d="M1040.0 1223.3 L1056.7 1233.3 L1076.7 1240.0 L1093.3 1250.0 L1113.3 1256.7" stroke="#3ca40b" stroke-width="4"/>
<path d="M560.0 1190.0 L580.0 1195.0" stroke="#b4a100" stroke-width="4"/>
<path d="M580.0 1195.0 L596.7 1190.0" stroke="#b79900" stroke-width="4"/>
<path d="M596.7 1190.0 L613.3 1190.0" stroke="#ba9000" stroke-width="4"/>
<path d="M613.3 1190.0 L630.0 1180.0 L646.7 1175.0" stroke="#be8800" stroke-width="4"/>
<path d="M646.7 1175.0 L666.7 1178.3" stroke="#bf7c00" stroke-width="4"/>
<path d="M666.7 1178.3 L683.3 1168.3" stroke="#c16400" stroke-width="4"/>
<path d="M683.3 1168.3 L700.0 1161.7 L716.7 1150.0" stroke="#c15700" stroke-width="4"/>
<path d="M716.7 1150.0 L730.0 1145.0 L746.7 1148.3 L756.7 1155.0" stroke="#c34704" stroke-width="4"/>
<path d="M756.7 1155.0 L773.3 1151.7 L790.0 1143.3 L806.7 1140.0 L820.0 1145.0" stroke="#c53607" stroke-width="4"/>
<path d="M820.0 1145.0 L840.0 1148.3" stroke="#c34704" stroke-width="4"/>
<path d="M840.0 1148.3 L856.7 1150.0" stroke="#c15700" stroke-width="4"/>
<path d="M856.7 1150.0 L873.3 1160.0" stroke="#c16400" stroke-width="4"/>
<path d="M873.3 1160.0 L883.3 1163.3 L893.3 1166.7" stroke="#c07000" stroke-width="4"/>
<path d="M893.3 1166.7 L910.0 1175.0" stroke="#bf7c00" stroke-width="4"/>
<path d="M910.0 1175.0 L926.7 1176.7" stroke="#be8800" stroke-width="4"/>
<path d="M630.0 1158.3 L646.7 1161.7" stroke="#bf7c00" stroke-width="4"/>
<path d="M646.7 1161.7 L663.3 1158.3 L673.3 1146.7" stroke="#c07000" stroke-width="4"/>
<path d="M673.3 1146.7 L683.3 1131.7" stroke="#c16400" stroke-width="4"/>
<path d="M683.3 1131.7 L691.7 1135.0" stroke="#c15700" stroke-width="4"/>
<path d="M691.7 1135.0 L700.0 1138.3" stroke="#c16400" stroke-width="4"/>
<path d="M700.0 1138.3 L713.3 1131.7" stroke="#c07000" stroke-width="4"/>
<path d="M713.3 1131.7 L726.7 1125.0" stroke="#be8800" stroke-width="4"/>
<path d="M726.7 1125.0 L731.7 1118.3" stroke="#ba9000" stroke-width="4"/>
<path d="M731.7 1118.3 L736.7 1111.7 L746.7 1120.0" stroke="#b79900" stroke-width="4"/>
<path d="M746.7 1120.0 L756.7 1128.3" stroke="#be8800" stroke-width="4"/>
<path d="M756.7 1128.3 L760.0 1128.0" stroke="#bf7c00" stroke-width="4"/>
<path d="M760.0 1128.0 L763.3 1127.7" stroke="#c07000" stroke-width="4"/>
<path d="M763.3 1127.7 L766.7 1127.3" stroke="#c16400" stroke-width="4"/>
<path d="M766.7 1127.3 L770.0 1127.0" stroke="#c15700" stroke-width="4"/>
<path d="M770.0 1127.0 L773.3 1126.7" stroke="#c53607" stroke-width="4"/>
<path d="M773.3 1126.7 L790.0 1116.7" stroke="#c7250b" stroke-width="4"/>
<path d="M790.0 1116.7 L806.7 1111.7" stroke="#c9140f" stroke-width="4"/>
<path d="M806.7 1111.7 L820.0 1113.3" stroke="#c7250b" stroke-width="4"/>
<path d="M820.0 1113.3 L833.3 1118.3" stroke="#c53607" stroke-width="4"/>
<path d="M833.3 1118.3 L840.0 1124.2" stroke="#c34704" stroke-width="4"/>
<path d="M840.0 1124.2 L846.7 1130.0 L855.0 1126.7" stroke="#c15700" stroke-width="4"/>
<path d="M855.0 1126.7 L863.3 1123.3" stroke="#c16400" stroke-width="4"/>
<path d="M863.3 1123.3 L868.3 1130.0" stroke="#c07000" stroke-width="4"/>
<path d="M868.3 1130.0 L873.3 1136.7" stroke="#bf7c00" stroke-width="4"/>
<path d="M873.3 1136.7 L880.0 1140.0" stroke="#be8800" stroke-width="4"/>
<path d="M880.0 1140.0 L885.6 1143.9" stroke="#ba9000" stroke-width="4"/>
<path d="M885.6 1143.9 L891.1 1147.8" stroke="#b79900" stroke-width="4"/>
<path d="M891.1 1147.8 L896.7 1151.7" stroke="#b4a100" stroke-width="4"/>
<path d="M896.7 1151.7 L906.7 1153.3 L916.7 1155.0" stroke="#b1a900" stroke-width="4"/>
<path d="M916.7 1155.0 L926.7 1166.7" stroke="#9fa900" stroke-width="4"/>
<path d="M926.7 1166.7 L943.3 1171.7" stroke="#7aa900" stroke-width="4"/>
<path d="M943.3 1171.7 L963.3 1178.3" stroke="#68a900" stroke-width="4"/>
<path d="M963.3 1178.3 L975.0 1181.7" stroke="#52a606" stroke-width="4"/>
<path d="M975.0 1181.7 L986.7 1185.0 L1006.7 1193.3 L1026.7 1203.3" stroke="#3ca40b" stroke-width="4"/>
<path d="M1026.7 1203.3 L1046.7 1213.3 L1060.0 1226.7" stroke="#25a111" stroke-width="4"/>
<path d="M1060.0 1226.7 L1080.0 1236.7" stroke="#3ca40b" stroke-width="4"/>
<path d="M1080.0 1236.7 L1100.0 1246.7" stroke="#52a606" stroke-width="4"/>
<path d="M1100.0 1246.7 L1120.0 1256.7 L1140.0 1263.3" stroke="#68a900" stroke-width="4"/>
<path d="M790.0 1091.7 L792.0 1094.0" stroke="#c7250b" stroke-width="4"/>
<path d="M792.0 1094.0 L794.0 1096.3" stroke="#c53607" stroke-width="4"/>
<path d="M794.0 1096.3 L796.0 1098.7" stroke="#c15700" stroke-width="4"/>
<path d="M796.0 1098.7 L798.0 1101.0" stroke="#c07000" stroke-width="4"/>
<path d="M798.0 1101.0 L800.0 1103.3" stroke="#bf7c00" stroke-width="4"/>
<path d="M800.0 1103.3 L806.7 1104.2" stroke="#be8800" stroke-width="4"/>
<path d="M806.7 1104.2 L813.3 1105.0" stroke="#bf7c00" stroke-width="4"/>
<path d="M813.3 1105.0 L820.0 1102.5" stroke="#c07000" stroke-width="4"/>
<path d="M820.0 1102.5 L826.7 1100.0" stroke="#c16400" stroke-width="4"/>
<path d="M826.7 1100.0 L835.0 1104.2" stroke="#c15700" stroke-width="4"/>
<path d="M835.0 1104.2 L843.3 1108.3" stroke="#c16400" stroke-width="4"/>
<path d="M843.3 1108.3 L860.0 1113.3" stroke="#c07000" stroke-width="4"/>
<path d="M860.0 1113.3 L876.7 1116.7" stroke="#bf7c00" stroke-width="4"/>
<path d="M876.7 1116.7 L882.2 1120.0" stroke="#be8800" stroke-width="4"/>
<path d="M882.2 1120.0 L887.8 1123.3" stroke="#ba9000" stroke-width="4"/>
<path d="M887.8 1123.3 L893.3 1126.7" stroke="#b79900" stroke-width="4"/>
<path d="M893.3 1126.7 L901.7 1132.5" stroke="#b4a100" stroke-width="4"/>
<path d="M901.7 1132.5 L910.0 1138.3" stroke="#b1a900" stroke-width="4"/>
<path d="M910.0 1138.3 L920.0 1140.0" stroke="#8ca900" stroke-width="4"/>
<path d="M920.0 1140.0 L930.0 1141.7" stroke="#7aa900" stroke-width="4"/>
<path d="M930.0 1141.7 L938.3 1145.8 L946.7 1150.0" stroke="#68a900" stroke-width="4"/>
<path d="M946.7 1150.0 L958.3 1155.8" stroke="#52a606" stroke-width="4"/>
<path d="M958.3 1155.8 L970.0 1161.7" stroke="#3ca40b" stroke-width="4"/>
<path d="M970.0 1161.7 L986.7 1155.0 L1003.3 1166.7" stroke="#25a111" stroke-width="4"/>
<path d="M1003.3 1166.7 L1020.0 1180.0 L1026.7 1184.4" stroke="#0f9e16" stroke-width="4"/>
<path d="M1026.7 1184.4 L1033.3 1188.9" stroke="#0b9725" stroke-width="4"/>
<path d="M1033.3 1188.9 L1040.0 1193.3" stroke="#078f34" stroke-width="4"/>
<path d="M1040.0 1193.3 L1048.3 1191.7" stroke="#048843" stroke-width="4"/>
<path d="M1048.3 1191.7 L1056.7 1190.0" stroke="#008052" stroke-width="4"/>
<path d="M1056.7 1190.0 L1065.0 1198.3" stroke="#00785d" stroke-width="4"/>
<path d="M1065.0 1198.3 L1073.3 1206.7" stroke="#007168" stroke-width="4"/>
<path d="M1073.3 1206.7 L1093.3 1203.3" stroke="#006973" stroke-width="4"/>
<path d="M1110.0 1225.0 L1130.0 1226.7" stroke="#007168" stroke-width="4"/>
<path d="M1130.0 1226.7 L1146.7 1225.0 L1163.3 1221.7" stroke="#00785d" stroke-width="4"/>
<path d="M1180.0 1243.3 L1196.7 1240.0" stroke="#008052" stroke-width="4"/>
<path d="M713.3 1520.0 L721.1 1516.7" stroke="#0029b6" stroke-width="4"/>
<path d="M721.1 1516.7 L728.9 1513.3" stroke="#0036ad" stroke-width="4"/>
<path d="M728.9 1513.3 L736.7 1510.0" stroke="#004a9a" stroke-width="4"/>
<path d="M736.7 1510.0 L742.2 1507.8" stroke="#005291" stroke-width="4"/>
<path d="M742.2 1507.8 L747.8 1505.6" stroke="#005988" stroke-width="4"/>
<path d="M747.8 1505.6 L753.3 1503.3" stroke="#00617e" stroke-width="4"/>
<path d="M753.3 1503.3 L766.7 1491.7" stroke="#006973" stroke-width="4"/>
<path d="M766.7 1491.7 L780.0 1480.0" stroke="#007168" stroke-width="4"/>
<path d="M780.0 1480.0 L793.3 1466.7" stroke="#00785d" stroke-width="4"/>
<path d="M793.3 1466.7 L803.3 1460.0" stroke="#048843" stroke-width="4"/>
<path d="M803.3 1460.0 L813.3 1453.3" stroke="#078f34" stroke-width="4"/>
<path d="M813.3 1453.3 L823.3 1449.2" stroke="#0b9725" stroke-width="4"/>
<path d="M823.3 1449.2 L833.3 1445.0 L850.0 1440.0" stroke="#0f9e16" stroke-width="4"/>
<path d="M850.0 1440.0 L866.7 1426.7 L883.3 1413.3" stroke="#25a111" stroke-width="4"/>
<path d="M883.3 1413.3 L891.7 1406.7 L900.0 1400.0" stroke="#3ca40b" stroke-width="4"/>
<path d="M900.0 1400.0 L916.7 1386.7" stroke="#52a606" stroke-width="4"/>
<path d="M916.7 1386.7 L925.0 1380.0" stroke="#7aa900" stroke-width="4"/>
<path d="M925.0 1380.0 L933.3 1373.3" stroke="#8ca900" stroke-width="4"/>
<path d="M933.3 1373.3 L940.0 1365.0" stroke="#9fa900" stroke-width="4"/>
<path d="M940.0 1365.0 L946.7 1356.7" stroke="#b1a900" stroke-width="4"/>
<path d="M946.7 1356.7 L950.8 1352.5" stroke="#b4a100" stroke-width="4"/>
<path d="M950.8 1352.5 L955.0 1348.3" stroke="#b79900" stroke-width="4"/>
<path d="M955.0 1348.3 L959.2 1344.2" stroke="#be8800" stroke-width="4"/>
<path d="M959.2 1344.2 L963.3 1340.0" stroke="#bf7c00" stroke-width="4"/>
<path d="M963.3 1340.0 L965.8 1336.2" stroke="#c07000" stroke-width="4"/>
<path d="M965.8 1336.2 L968.3 1332.5" stroke="#c16400" stroke-width="4"/>
<path d="M968.3 1332.5 L970.8 1328.8" stroke="#c15700" stroke-width="4"/>
<path d="M970.8 1328.8 L973.3 1325.0" stroke="#c53607" stroke-width="4"/>
<path d="M973.3 1325.0 L977.5 1321.2" stroke="#c7250b" stroke-width="4"/>
<path d="M977.5 1321.2 L981.7 1317.5" stroke="#c9140f" stroke-width="4"/>
<path d="M981.7 1317.5 L985.8 1313.8" stroke="#c62221" stroke-width="4"/>
<path d="M985.8 1313.8 L990.0 1310.0 L1003.3 1300.0 L1023.3 1296.7" stroke="#c13d44" stroke-width="4"/>
<path d="M740.0 1500.0 L756.7 1490.0" stroke="#0029b6" stroke-width="4"/>
<path d="M756.7 1490.0 L765.0 1485.0" stroke="#0036ad" stroke-width="4"/>
<path d="M765.0 1485.0 L773.3 1480.0" stroke="#0043a4" stroke-width="4"/>
<path d="M773.3 1480.0 L777.8 1472.2" stroke="#004a9a" stroke-width="4"/>
<path d="M777.8 1472.2 L782.2 1464.4" stroke="#005291" stroke-width="4"/>
<path d="M782.2 1464.4 L786.7 1456.7" stroke="#005988" stroke-width="4"/>
<path d="M786.7 1456.7 L796.7 1455.8" stroke="#006973" stroke-width="4"/>
<path d="M796.7 1455.8 L806.7 1455.0" stroke="#007168" stroke-width="4"/>
<path d="M806.7 1455.0 L816.7 1448.3" stroke="#00785d" stroke-width="4"/>
<path d="M816.7 1448.3 L826.7 1441.7" stroke="#008052" stroke-width="4"/>
<path d="M826.7 1441.7 L843.3 1443.3" stroke="#048843" stroke-width="4"/>
<path d="M843.3 1443.3 L851.7 1435.0" stroke="#0b9725" stroke-width="4"/>
<path d="M851.7 1435.0 L860.0 1426.7 L880.0 1413.3" stroke="#0f9e16" stroke-width="4"/>
<path d="M866.7 1456.7 L880.0 1446.7" stroke="#b4a100" stroke-width="4"/>
<path d="M880.0 1446.7 L896.7 1430.0" stroke="#b1a900" stroke-width="4"/>
<path d="M896.7 1430.0 L913.3 1413.3" stroke="#b4a100" stroke-width="4"/>
<path d="M913.3 1413.3 L921.7 1403.3 L930.0 1393.3" stroke="#b79900" stroke-width="4"/>
<path d="M930.0 1393.3 L943.3 1373.3" stroke="#ba9000" stroke-width="4"/>
<path d="M943.3 1373.3 L946.7 1367.8" stroke="#bf7c00" stroke-width="4"/>
<path d="M946.7 1367.8 L950.0 1362.2" stroke="#c07000" stroke-width="4"/>
<path d="M950.0 1362.2 L953.3 1356.7" stroke="#c16400" stroke-width="4"/>
<path d="M953.3 1356.7 L956.7 1351.1" stroke="#c34704" stroke-width="4"/>
<path d="M956.7 1351.1 L960.0 1345.6" stroke="#c53607" stroke-width="4"/>
<path d="M960.0 1345.6 L963.3 1340.0" stroke="#c7250b" stroke-width="4"/>
<path d="M963.3 1340.0 L970.0 1330.0" stroke="#c9140f" stroke-width="4"/>
<path d="M980.0 1183.3 L1000.0 1188.3" stroke="#0f9e16" stroke-width="4"/>
<path d="M1000.0 1188.3 L1020.0 1200.0" stroke="#0b9725" stroke-width="4"/>
<path d="M1020.0 1200.0 L1040.0 1210.0 L1060.0 1216.7" stroke="#078f34" stroke-width="4"/>
<path d="M1060.0 1216.7 L1080.0 1223.3" stroke="#048843" stroke-width="4"/>
<path d="M1080.0 1223.3 L1100.0 1231.7" stroke="#008052" stroke-width="4"/>
<path d="M1100.0 1231.7 L1113.3 1236.7" stroke="#00785d" stroke-width="4"/>
<path d="M1113.3 1236.7 L1130.0 1245.0 L1146.7 1243.3" stroke="#008052" stroke-width="4"/>
<path d="M1146.7 1243.3 L1160.0 1251.7" stroke="#048843" stroke-width="4"/>
<path d="M1160.0 1251.7 L1173.3 1248.3 L1186.7 1243.3" stroke="#078f34" stroke-width="4"/>
<path d="M980.0 1226.7 L1000.0 1230.0 L1016.7 1240.0 L1036.7 1246.7 L1056.7 1250.0 L1066.7 1251.7" stroke="#b1a900" stroke-width="4"/>
<path d="M1066.7 1251.7 L1076.7 1253.3" stroke="#b4a100" stroke-width="4"/>
<path d="M1076.7 1253.3 L1086.7 1256.7" stroke="#b79900" stroke-width="4"/>
<path d="M1086.7 1256.7 L1096.7 1260.0" stroke="#ba9000" stroke-width="4"/>
<path d="M1096.7 1260.0 L1106.7 1261.7" stroke="#be8800" stroke-width="4"/>
<path d="M980.0 1253.3 L1000.0 1261.7" stroke="#b79900" stroke-width="4"/>
<path d="M1000.0 1261.7 L1023.3 1255.0" stroke="#ba9000" stroke-width="4"/>
<path d="M1023.3 1255.0 L1040.0 1266.7" stroke="#be8800" stroke-width="4"/>
<path d="M1040.0 1266.7 L1056.7 1276.7" stroke="#bf7c00" stroke-width="4"/>
<path d="M1056.7 1276.7 L1073.3 1271.7 L1093.3 1263.3" stroke="#c07000" stroke-width="4"/>
<path d="M980.0 1298.3 L983.3 1297.9" stroke="#bf7c00" stroke-width="4"/>
<path d="M983.3 1297.9 L986.7 1297.5" stroke="#c07000" stroke-width="4"/>
<path d="M986.7 1297.5 L990.0 1297.1" stroke="#c16400" stroke-width="4"/>
<path d="M990.0 1297.1 L993.3 1296.7" stroke="#c34704" stroke-width="4"/>
<path d="M993.3 1296.7 L996.7 1297.9" stroke="#c53607" stroke-width="4"/>
<path d="M996.7 1297.9 L1000.0 1299.2" stroke="#c9140f" stroke-width="4"/>
<path d="M1000.0 1299.2 L1003.3 1300.4" stroke="#c62221" stroke-width="4"/>
<path d="M1003.3 1300.4 L1006.7 1301.7 L1010.0 1300.7" stroke="#c42f32" stroke-width="4"/>
<path d="M1010.0 1300.7 L1013.3 1299.7" stroke="#c62221" stroke-width="4"/>
<path d="M1013.3 1299.7 L1016.7 1298.7" stroke="#c9140f" stroke-width="4"/>
<path d="M1016.7 1298.7 L1020.0 1297.7" stroke="#c53607" stroke-width="4"/>
<path d="M1020.0 1297.7 L1023.3 1296.7" stroke="#c34704" stroke-width="4"/>
<path d="M1023.3 1296.7 L1040.0 1286.7" stroke="#c15700" stroke-width="4"/>
<path d="M1040.0 1286.7 L1060.0 1276.7" stroke="#c34704" stroke-width="4"/>
<path d="M1060.0 1276.7 L1080.0 1270.0" stroke="#c53607" stroke-width="4"/>
<path d="M896.7 1426.7 L905.0 1421.7 L913.3 1416.7" stroke="#c07000" stroke-width="4"/>
<path d="M913.3 1416.7 L930.0 1408.3" stroke="#c16400" stroke-width="4"/>
<path d="M930.0 1408.3 L946.7 1401.7" stroke="#c34704" stroke-width="4"/>
<path d="M946.7 1401.7 L963.3 1396.7" stroke="#c53607" stroke-width="4"/>
</g>
<g>
<rect x="1389.3" y="142.5" width="20.7" height="218.5" fill="url(#cb)"/>
<rect x="1407.0" y="142.5" width="3.5" height="218.5" fill="#000" opacity="0.35"/>
<rect x="1385.7" y="141.5" width="3.6" height="220.5" fill="#9a9a9a"/>
<rect x="1389.3" y="140.7" width="20.7" height="3.6" fill="#ffffff" opacity="0.5"/>
<rect x="1409.0" y="140.7" width="12.0" height="3.6" fill="#8e8e8e"/>
<rect x="1389.3" y="177.1" width="20.7" height="3.6" fill="#ffffff" opacity="0.5"/>
<rect x="1409.0" y="177.1" width="12.0" height="3.6" fill="#8e8e8e"/>
<rect x="1389.3" y="213.5" width="20.7" height="3.6" fill="#ffffff" opacity="0.5"/>
<rect x="1409.0" y="213.5" width="12.0" height="3.6" fill="#8e8e8e"/>
<rect x="1389.3" y="249.9" width="20.7" height="3.6" fill="#ffffff" opacity="0.5"/>
<rect x="1409.0" y="249.9" width="12.0" height="3.6" fill="#8e8e8e"/>
<rect x="1389.3" y="286.4" width="20.7" height="3.6" fill="#ffffff" opacity="0.5"/>
<rect x="1409.0" y="286.4" width="12.0" height="3.6" fill="#8e8e8e"/>
<rect x="1389.3" y="322.8" width="20.7" height="3.6" fill="#ffffff" opacity="0.5"/>
<rect x="1409.0" y="322.8" width="12.0" height="3.6" fill="#8e8e8e"/>
<rect x="1389.3" y="359.2" width="20.7" height="3.6" fill="#ffffff" opacity="0.5"/>
<rect x="1409.0" y="359.2" width="12.0" height="3.6" fill="#8e8e8e"/>
</g>
<g>
<rect x="1362.3" y="1048" width="20" height="212" fill="url(#cb)"/>
<rect x="1379.3" y="1048" width="3.5" height="212" fill="#000" opacity="0.35"/>
<rect x="1358.7" y="1047" width="3.6" height="214" fill="#9a9a9a"/>
<rect x="1362.3" y="1046.2" width="20" height="3.6" fill="#ffffff" opacity="0.5"/>
<rect x="1381.3" y="1046.2" width="11.700000000000045" height="3.6" fill="#8e8e8e"/>
<rect x="1362.3" y="1081.5" width="20" height="3.6" fill="#ffffff" opacity="0.5"/>
<rect x="1381.3" y="1081.5" width="11.700000000000045" height="3.6" fill="#8e8e8e"/>
<rect x="1362.3" y="1116.9" width="20" height="3.6" fill="#ffffff" opacity="0.5"/>
<rect x="1381.3" y="1116.9" width="11.700000000000045" height="3.6" fill="#8e8e8e"/>
<rect x="1362.3" y="1152.2" width="20" height="3.6" fill="#ffffff" opacity="0.5"/>
<rect x="1381.3" y="1152.2" width="11.700000000000045" height="3.6" fill="#8e8e8e"/>
<rect x="1362.3" y="1187.5" width="20" height="3.6" fill="#ffffff" opacity="0.5"/>
<rect x="1381.3" y="1187.5" width="11.700000000000045" height="3.6" fill="#8e8e8e"/>
<rect x="1362.3" y="1222.9" width="20" height="3.6" fill="#ffffff" opacity="0.5"/>
<rect x="1381.3" y="1222.9" width="11.700000000000045" height="3.6" fill="#8e8e8e"/>
<rect x="1362.3" y="1258.2" width="20" height="3.6" fill="#ffffff" opacity="0.5"/>
<rect x="1381.3" y="1258.2" width="11.700000000000045" height="3.6" fill="#8e8e8e"/>
</g>
<g id="labels">
<text class="pl" font-size="132" transform="translate(122.5,181) scale(0.83,0.965)">a</text>
<text x="1465" y="138" class="lab" textLength="170" lengthAdjust="spacingAndGlyphs">+0.01532</text>
<text x="1474" y="257" class="lab" >wave</text>
<text x="1461.5" y="367" class="lab" textLength="173.5" lengthAdjust="spacingAndGlyphs">−0.01840</text>
<text x="1476" y="412" class="lab" >226</text>
<text x="1395" y="591" class="lab" >pix</text>
<text x="1180" y="790" class="lab" >175</text>
<text x="617.5" y="860" class="lab" >pix</text>
<text x="141.5" y="881.5" class="lab" >199</text>
<text x="1040" y="872.5" class="lab" >250</text>
<text class="pl" font-size="132" transform="translate(117.5,1074) scale(0.885,1)">b</text>
<text x="1426.5" y="1036" class="lab" textLength="171" lengthAdjust="spacingAndGlyphs">+0.02225</text>
<text x="1437" y="1155" class="lab" >wave</text>
<text x="1424" y="1266" class="lab" textLength="173" lengthAdjust="spacingAndGlyphs">−0.02943</text>
<text x="1438" y="1309" class="lab" >318</text>
<text x="1345" y="1488.5" class="lab" >pix</text>
<text x="1161.5" y="1681.5" class="lab" >267</text>
<text x="603" y="1751" class="lab" >pix</text>
<text x="129.5" y="1758.5" class="lab" >251</text>
<text x="1033.5" y="1752.5" class="lab" >302</text>
</g>
<g id="stats">
<rect x="1297" y="706" width="404" height="203" fill="#c1c1c1"/>
<rect x="1297" y="1575" width="404" height="203" fill="#c1c1c1"/>
<rect x="1297" y="1778" width="404" height="4" fill="#202020"/>
<g>
<text x="1499.5" y="795" class="st" text-anchor="middle" letter-spacing="0.7">PV=0.034<tspan font-size="47">λ</tspan></text>
<text x="1499" y="860" class="st" text-anchor="middle" letter-spacing="0.45">RMS=0.006 <tspan font-size="47">λ</tspan></text>
<text x="1498.5" y="1664" class="st" text-anchor="middle" letter-spacing="0.7">PV=0.052<tspan font-size="47">λ</tspan></text>
<text x="1499" y="1729" class="st" text-anchor="middle" letter-spacing="0.45">RMS=0.009 <tspan font-size="47">λ</tspan></text>
</g></g>
</g></g></g>
</svg>
</body></html>
